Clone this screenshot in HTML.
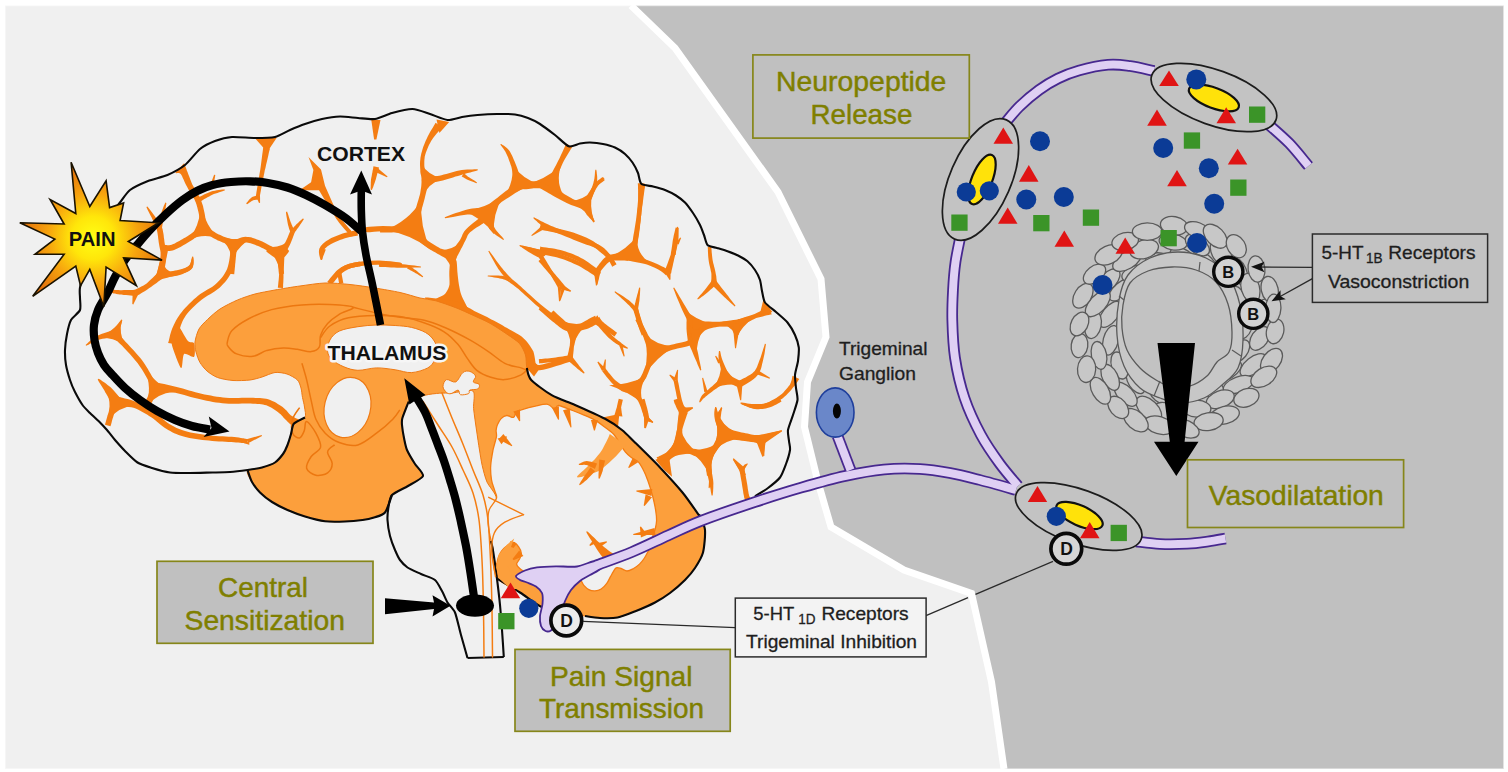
<!DOCTYPE html>
<html><head><meta charset="utf-8"><title>Migraine pathophysiology</title>
<style>
html,body{margin:0;padding:0;background:#fff;}
body{width:1508px;height:772px;overflow:hidden;}
svg{display:block;}
text{font-family:"Liberation Sans",Arial,Helvetica,sans-serif;}
.b{font-weight:bold;}
.ol{fill:#7d7d00;}
</style></head><body>
<svg width="1508" height="772" viewBox="0 0 1508 772">
<rect x="0" y="0" width="1508" height="772" fill="#ffffff"/>
<rect x="5" y="5.5" width="1498.8" height="763.5" fill="#f0f0f0"/>
<path d="M631 5.5L675 48L778 192L821 279L826 337L807.5 382L804.5 427L818 482L831 527L904 570L971.5 593.5L991.5 682L1004 769L1503.8 769L1503.8 5.5Z" fill="#c0c0c0"/>
<path d="M631 5.5L675 48L778 192L821 279L826 337L807.5 382L804.5 427L818 482L831 527L904 570L971.5 593.5L991.5 682L1004 769" fill="none" stroke="#ffffff" stroke-width="7" stroke-linejoin="miter"/>
<rect x="5" y="5.5" width="1498.8" height="763.5" fill="none" stroke="#ffffff" stroke-opacity="0.5" stroke-width="1.5"/>
<g>
<path d="M175.1 172.9L175.9 173.1L176.7 173.2L177.4 173.1L177.9 173.1L178.5 173L179.2 173.1L179.9 173.4L180.8 173.9L181.4 175L182.1 176.3L182.8 177.9L183.6 179.6L184.4 181.5L185.3 183.4L186.2 185.3L187.2 187.1L188.2 189L189.3 190.8L190.3 192.6L191.4 194.3L192.5 196L193.5 197.7L194.4 199.3L195.1 200.9L195.8 202.6L196.4 204.3L196.9 206L197.4 207.7L197.8 209.4L198.2 211L198.6 212.7L198.9 214.3L199.1 215.8L199.2 217.5L199.3 219.2L199.3 220.8L199.3 222.4L199.3 223.8L199.3 225L199.3 225.9L206.2 225.5L206 224.6L205.9 223.5L205.8 222.1L205.6 220.4L205.5 218.7L205.2 216.9L204.9 215L204.6 213.2L204.2 211.5L203.8 209.8L203.4 208L203 206.1L202.4 204.3L201.8 202.4L201.1 200.5L200.4 198.6L199.5 196.8L198.5 194.9L197.4 193.1L196.3 191.3L195.2 189.5L194.2 187.8L193.2 186.1L192.3 184.5L191.6 182.8L190.9 181L190.1 179.1L189.5 177.2L188.8 175.4L188.1 173.7L187.5 172.1L186.8 170.6L186.4 169.1L185.9 167.7L185.4 166.5L184.9 165.4L184.4 164.4L184.2 163.7L184.3 163.2L184.5 162.8Z" fill="#f47d12"/>
<path d="M213.4 186.7L215.3 175L214.1 174.7L210 185.8Z" fill="#f47d12"/>
<path d="M200.8 201.2L201.7 200.7L202.9 200L204.3 199.1L205.9 198.2L207.5 197.3L209.2 196.4L210.8 195.5L212.3 194.8L213.9 194.1L215.6 193.5L217.4 192.9L219.2 192.3L220.9 191.7L222.5 191.2L223.8 190.8L224.8 190.4L224.5 189.3L223.5 189.4L222.1 189.5L220.5 189.7L218.7 190L216.7 190.3L214.8 190.7L212.9 191.1L211.1 191.6L209.4 192.2L207.6 193L205.7 193.8L204 194.6L202.3 195.4L200.8 196.2L199.6 196.7L198.7 197.2Z" fill="#f47d12"/>
<path d="M200.1 223.5L199.6 224.2L199 225.1L198.3 226.1L197.5 227.2L196.7 228.3L195.8 229.5L194.9 230.5L193.9 231.5L192.7 232.4L191.4 233.4L190 234.4L188.5 235.4L187 236.4L185.4 237.4L183.8 238.3L182.3 239.2L180.8 240.1L179.3 241L177.7 241.8L176.2 242.6L174.8 243.4L173.4 244L172.1 244.5L171 244.9L170.1 245.1L169.2 245.2L168.2 245.2L167.3 245.2L166.4 245.1L165.6 245L164.7 244.8L164 244.8L163.6 250.5L164.1 250.6L164.8 250.7L165.7 250.8L166.8 250.9L168.1 251L169.5 251L171.1 250.8L172.6 250.4L174.1 249.9L175.7 249.3L177.3 248.5L178.9 247.7L180.5 246.9L182.1 246L183.7 245.1L185.2 244.2L186.8 243.3L188.4 242.3L190 241.3L191.7 240.2L193.3 239.2L194.8 238.1L196.3 237L197.6 235.9L199 234.8L200.2 233.6L201.4 232.4L202.4 231.2L203.4 230.1L204.2 229.2L204.9 228.4L205.4 227.9Z" fill="#f47d12"/>
<path d="M146.4 207.1L146.9 208.2L147.6 209.7L148.5 211.5L149.5 213.4L150.5 215.4L151.5 217.3L152.4 219.2L153.1 220.8L153.8 222.1L154.4 223.3L154.9 224.4L155.4 225.3L155.8 226.2L156.1 227.2L156.4 228.3L156.7 229.5L157.1 231L157.4 232.6L157.7 234.5L158 236.4L158.2 238.4L158.5 240.4L158.7 242.3L159 244.1L159.3 245.8L159.6 247.3L159.9 248.7L160.2 250L160.4 251.2L160.6 252.5L160.6 253.9L160.6 255.4L160.4 257.4L160 259.7L159.5 262.3L158.9 265L158.4 267.5L157.8 269.9L157.4 271.9L157 273.4L162.7 274.6L163 273.2L163.4 271.2L164 268.8L164.5 266.2L165.1 263.4L165.6 260.7L166.1 258.1L166.3 255.9L166.4 253.9L166.3 252.1L166.1 250.4L165.8 248.9L165.5 247.5L165.2 246.1L164.9 244.7L164.7 243.2L164.4 241.5L164.2 239.6L163.9 237.7L163.7 235.6L163.4 233.6L163 231.6L162.7 229.7L162.2 227.9L161.6 226.4L161 225.1L160.3 223.9L159.6 222.9L158.9 221.9L158.2 221L157.4 219.9L156.6 218.7L155.5 217.3L154.3 215.6L153 213.8L151.7 212L150.4 210.3L149.2 208.7L148.2 207.4L147.4 206.5Z" fill="#f47d12"/>
<path d="M165.3 202.6L164.9 203.4L164.5 204.4L164 205.6L163.4 207L162.9 208.5L162.3 210.1L161.7 211.7L161.2 213.3L160.7 215.1L160.1 217.1L159.6 219.3L159 221.5L158.5 223.6L158 225.5L157.5 227.1L157.2 228.2L161.7 229.2L161.9 228L162.2 226.4L162.5 224.5L162.9 222.4L163.3 220.2L163.8 218L164.2 216L164.5 214.2L164.8 212.5L165.1 210.8L165.4 209.2L165.7 207.6L165.9 206.2L166.1 204.9L166.3 203.8L166.4 202.9Z" fill="#f47d12"/>
<path d="M200.4 228.2L201.1 228.8L202 229.6L203.1 230.5L204.3 231.6L205.7 232.8L207.1 234L208.6 235.1L210.1 236.1L211.6 237L213.1 237.9L214.6 238.8L216.2 239.6L217.8 240.4L219.5 241.1L221.1 241.8L222.7 242.4L224.2 243L225.7 243.6L227.3 244.2L229 244.8L230.6 245.3L232.3 245.7L233.9 246L235.7 246.1L237.6 245.9L239.3 245.4L240.7 244.7L242 244.1L243 243.5L244 243L244.8 242.7L245.7 242.6L246.8 242.6L248 242.8L249.3 243L250.6 243.3L252 243.7L253.5 244.2L255 244.8L256.5 245.4L258.1 246L259.8 246.8L261.6 247.7L263.4 248.6L265.2 249.6L267 250.5L268.7 251.4L270.2 252.2L271.6 253L272.9 253.8L274.2 254.6L275.4 255.3L276.4 256L277.4 256.7L278.2 257.2L278.8 257.7L282.2 251.6L281.5 251.3L280.7 250.9L279.6 250.4L278.5 249.8L277.2 249.2L275.8 248.5L274.4 247.8L272.9 247.1L271.4 246.3L269.7 245.4L267.9 244.5L266.1 243.5L264.2 242.5L262.3 241.6L260.4 240.7L258.6 240L257 239.4L255.3 238.8L253.7 238.3L252.1 237.8L250.5 237.4L248.9 237.1L247.2 236.9L245.5 236.8L243.8 236.9L242.1 237.3L240.6 237.8L239.3 238.3L238.2 238.8L237.2 239.1L236.4 239.2L235.6 239.2L234.6 239.2L233.3 239.2L232 239L230.6 238.7L229.2 238.3L227.7 237.9L226.2 237.5L224.7 237L223.2 236.4L221.8 235.8L220.3 235.1L218.8 234.4L217.3 233.7L215.9 232.9L214.6 232.1L213.3 231.3L212.2 230.4L211 229.4L209.8 228.2L208.6 227L207.6 225.9L206.6 224.8L205.7 223.9L205.1 223.2Z" fill="#f47d12"/>
<path d="M201.3 207.8Q206.1 224.9 217.7 238.4Q203.1 233 189.3 240.1Q199 225.3 201.3 207.8Z" fill="#f47d12"/>
<path d="M231.7 241.7L231.7 242.4L231.6 243.3L231.5 244.4L231.4 245.6L231.2 246.9L231 248.4L230.9 249.8L230.8 251.2L230.7 252.7L230.5 254.2L230.4 255.8L230.4 257.4L230.3 258.9L230.2 260.5L230.2 262L230.1 263.4L229.9 264.8L229.8 266.3L229.7 267.8L229.5 269.3L229.4 270.7L229.3 271.9L229.2 273L229.1 273.7L234.2 274.3L234.3 273.5L234.4 272.4L234.5 271.2L234.7 269.8L234.8 268.3L235 266.8L235.1 265.3L235.2 263.8L235.4 262.4L235.5 260.9L235.7 259.3L235.8 257.7L236 256.2L236.1 254.7L236.3 253.3L236.5 252.1L236.8 250.9L237.2 249.6L237.6 248.4L238.1 247.2L238.5 246.1L238.9 245.1L239.3 244.3L239.6 243.6Z" fill="#f47d12"/>
<path d="M219.7 238.5Q235.9 240.6 252 237.3Q238.9 245.9 231.4 259.7Q230.8 246.2 219.7 238.5Z" fill="#f47d12"/>
<path d="M283.4 256.5L283.9 255.7L284.5 254.5L285.3 253.1L286.2 251.6L287.2 249.9L288.1 248.2L289 246.5L289.8 244.9L290.6 243.2L291.3 241.5L292 239.7L292.7 237.9L293.3 236.2L293.9 234.7L294.3 233.5L294.6 232.6L290.4 230.9L290 231.8L289.4 233L288.8 234.5L288.2 236.1L287.5 237.8L286.7 239.5L286 241.1L285.2 242.5L284.4 243.8L283.4 245.3L282.3 246.8L281.2 248.2L280.1 249.6L279.2 250.9L278.3 252L277.6 252.8Z" fill="#f47d12"/>
<path d="M294.6 230.9L294.3 230.3L294 229.6L293.5 228.7L293.1 227.7L292.6 226.7L292.1 225.6L291.6 224.4L291.2 223.2L290.6 221.9L290.1 220.4L289.5 218.7L288.9 217L288.4 215.3L287.9 213.8L287.4 212.5L287.1 211.6L286 211.9L286 212.9L286.2 214.2L286.4 215.8L286.7 217.5L287 219.3L287.3 221.1L287.6 222.8L287.9 224.2L288.2 225.5L288.6 226.8L288.9 228.1L289.3 229.2L289.7 230.3L290 231.2L290.2 232L290.4 232.5Z" fill="#f47d12"/>
<path d="M294.3 233.2L294.6 232.7L295 232L295.6 231.3L296.2 230.4L296.8 229.5L297.5 228.6L298.2 227.7L298.8 226.8L299.4 225.9L300.1 224.8L300.9 223.7L301.7 222.6L302.4 221.6L303 220.6L303.5 219.8L303.9 219.1L303 218.4L302.5 218.8L301.7 219.5L300.9 220.2L299.9 221.1L298.9 222L298 223L297 223.8L296.2 224.6L295.4 225.4L294.6 226.2L293.8 227.1L293.1 227.9L292.4 228.6L291.7 229.3L291.2 229.8L290.7 230.2Z" fill="#f47d12"/>
<path d="M277.1 254.6L277.2 255.3L277.3 256.2L277.4 257.2L277.4 258.5L277.5 259.8L277.7 261.1L277.8 262.5L277.9 263.8L278 265.1L278.2 266.6L278.3 268.1L278.5 269.6L278.6 271.1L278.8 272.4L278.9 273.5L279 274.3L284.1 273.7L284 272.9L283.9 271.8L283.8 270.5L283.6 269.1L283.5 267.6L283.3 266.1L283.2 264.7L283.1 263.5L283.2 262.3L283.3 261L283.4 259.8L283.5 258.5L283.6 257.4L283.7 256.3L283.9 255.4L284 254.7Z" fill="#f47d12"/>
<path d="M266 246.2Q279.1 249.3 289.3 240.6Q282.7 255.9 280.5 272.3Q276.9 257.3 266 246.2Z" fill="#f47d12"/>
<path d="M255.2 138.6L276.9 137.6L267.2 151.9Z" fill="#f47d12"/>
<path d="M263.2 147.3L263 149.1L262.7 151.4L262.3 154.3L261.9 157.4L261.5 160.6L261.1 163.8L260.7 166.8L260.3 169.5L259.9 171.8L259.5 174L259.2 176.1L258.8 178.1L258.5 180L258.2 181.9L257.9 183.7L257.6 185.5L257.3 187.3L257 189L256.7 190.8L256.4 192.5L256.2 194L255.9 195.4L255.8 196.6L255.6 197.5L259.6 198.1L259.7 197.2L259.9 196.1L260.1 194.7L260.4 193.1L260.7 191.5L261 189.7L261.3 187.9L261.6 186.2L261.9 184.4L262.3 182.6L262.7 180.8L263.1 178.9L263.5 176.9L263.9 174.8L264.4 172.6L264.8 170.3L265.5 167.7L266.1 164.8L266.9 161.6L267.6 158.4L268.3 155.4L268.9 152.6L269.5 150.3L270 148.5Z" fill="#f47d12"/>
<path d="M257.3 195.8L257 195.9L256.6 195.9L256 196L255.3 196.1L254.4 196.3L253.6 196.5L252.7 196.8L251.8 197.3L251 198L250.1 198.7L249.3 199.6L248.5 200.5L247.8 201.4L247.1 202.2L246.6 202.8L246.2 203.4L247 204.2L247.6 203.9L248.3 203.4L249.1 202.8L250.1 202.2L251 201.6L251.9 201L252.8 200.6L253.4 200.3L253.9 200.1L254.5 200L255.1 199.9L255.7 199.8L256.3 199.8L256.9 199.8L257.4 199.8L257.9 199.8Z" fill="#f47d12"/>
<path d="M256 196.3L259 202.9L260.1 202.7L260 195.4Z" fill="#f47d12"/>
<path d="M308.5 156.9L321 169.5L325 185.8L333.8 205.8L329.4 207.8L319 190.2L299.5 190.2L311.1 182.2L313.4 169.9Z" fill="#f47d12"/>
<path d="M331.4 205.8C332.7 208.1 336.4 215.4 339.4 219.7C342.4 224.1 347.7 229.7 349.4 231.7" fill="none" stroke="#f47d12" stroke-width="4.1" stroke-linecap="round" stroke-linejoin="round"/>
<path d="M371.3 119.9L374.1 139.5L376.4 139.6L380.5 120.1Z" fill="#f47d12"/>
<path d="M373.5 166.2L373.3 167.3L373.1 168.7L372.7 170.3L372.4 172.2L372 174.1L371.7 176L371.3 177.8L371 179.4L370.9 180.9L370.8 182.4L370.8 183.9L370.7 185.4L370.7 186.7L370.6 187.9L370.7 188.9L370.7 189.7L371.9 189.9L372.2 189.2L372.6 188.3L373.1 187.2L373.5 185.9L374 184.6L374.5 183.2L375 181.7L375.5 180.3L376 178.8L376.4 177.1L376.9 175.2L377.4 173.3L377.9 171.5L378.4 169.9L378.8 168.5L379.1 167.5Z" fill="#f47d12"/>
<path d="M375 171.8L386.9 177.3L387.6 176.4L377.5 167.9Z" fill="#f47d12"/>
<path d="M367.3 229.7C370 229.5 377.8 228.7 383.3 228.7C388.7 228.7 397.2 229.5 400 229.7" fill="none" stroke="#f47d12" stroke-width="5.3" stroke-linecap="round" stroke-linejoin="round"/>
<path d="M322.3 259.6L322.4 258.7L322.4 257.6L322.5 256.4L322.5 255L322.6 253.6L322.8 252.4L323.1 251.3L323.5 250.6L324 249.8L324.6 249L325.3 248.2L326.2 247.4L327.2 246.6L328.3 245.8L329.5 245.1L330.7 244.3L332.1 243.5L333.6 242.7L335.3 242L337 241.2L338.8 240.5L340.6 239.8L342.4 239.2L344.2 238.6L345.9 238L347.9 237.6L349.8 237.1L351.8 236.7L353.7 236.3L355.4 236L356.9 235.7L358 235.5L356.7 229.9L355.6 230.2L354.2 230.5L352.5 230.9L350.6 231.4L348.6 231.9L346.5 232.4L344.5 233L342.6 233.6L340.7 234.3L338.8 234.9L336.9 235.7L335 236.4L333.1 237.2L331.3 238.1L329.6 239L328.1 239.9L326.7 240.8L325.3 241.8L324.1 242.8L322.9 243.8L321.8 244.9L320.8 246.1L320 247.4L319.3 248.8L319 250.4L318.9 252.1L319.1 253.7L319.3 255.3L319.7 256.7L320 257.9L320.3 259L320.6 259.7Z" fill="#f47d12"/>
<path d="M337.4 274C338.7 272.9 341.7 269.3 345.4 267.6C349 266 353.7 264.9 359.3 264C365 263.2 372.5 262.5 379.3 262.6C386.1 262.7 396.6 264.3 400 264.6" fill="none" stroke="#f47d12" stroke-width="4.4" stroke-linecap="round" stroke-linejoin="round"/>
<path d="M192.2 256.6L191.9 257.4L191.7 258.5L191.4 259.8L191.2 261.1L190.8 262.5L190.4 263.7L189.8 264.7L189.2 265.4L188.5 266.1L187.5 266.8L186.3 267.5L184.9 268.2L183.5 268.8L182 269.4L180.5 270L179.1 270.4L177.7 270.8L176.1 271.2L174.5 271.5L172.8 271.7L171.2 271.9L169.7 272L168.5 272.2L167.5 272.3L168.1 276.9L169 276.8L170.2 276.6L171.7 276.5L173.4 276.3L175.2 276L177 275.7L178.8 275.3L180.5 274.8L182.1 274.2L183.6 273.5L185.3 272.8L186.9 272L188.4 271.2L189.9 270.2L191.2 269.1L192.4 267.9L193.1 266.3L193.5 264.6L193.7 263L193.7 261.4L193.7 259.9L193.5 258.6L193.4 257.5L193.3 256.7Z" fill="#f47d12"/>
<path d="M436.5 119.5L449.2 121.9L439.4 132.9Z" fill="#f47d12"/>
<path d="M435.6 122.7L434.9 123.9L434 125.5L432.9 127.4L431.6 129.6L430.2 131.8L428.9 134.2L427.7 136.5L426.7 138.7L425.7 140.8L424.8 142.9L424 145L423.2 147.1L422.5 149.3L421.9 151.4L421.3 153.4L420.9 155.4L420.5 157.4L420.3 159.4L420.1 161.3L420 163.2L420 165L420.1 166.8L420.2 168.4L420.3 170.1L420.3 171.7L420.5 173.2L420.8 174.6L421.1 175.8L421.3 176.9L421.4 177.9L421.5 178.8L421.4 179.9L421.5 181.2L421.5 182.6L421.4 184.2L421.3 185.8L421.1 187.5L420.8 189.3L420.5 191.2L420.2 193.2L419.7 195.2L419.1 197.3L418.5 199.5L417.8 201.8L417.1 204.1L416.4 206.4L415.7 208.7L415 210.9L414.3 213L413.4 215.3L412.6 217.5L411.8 219.8L411 221.8L410.2 223.7L409.6 225.3L409.1 226.5L416.7 228.9L417 227.6L417.4 226L417.9 224L418.4 221.9L419 219.6L419.6 217.2L420.2 214.8L420.8 212.6L421.4 210.4L422 208.1L422.7 205.8L423.3 203.4L424 201L424.6 198.7L425.1 196.5L425.6 194.4L426.1 192.4L426.6 190.5L427 188.6L427.4 186.8L427.8 185L428.1 183.2L428.3 181.5L428.4 179.7L428.1 177.9L427.6 176.4L427.1 175L426.5 173.8L425.9 172.8L425.5 171.8L425 170.8L424.7 169.6L424.6 168.1L424.4 166.5L424.3 164.9L424.3 163.2L424.3 161.5L424.4 159.8L424.6 158L424.8 156.3L425.3 154.5L425.9 152.6L426.6 150.7L427.4 148.7L428.2 146.8L429.1 144.8L430.1 142.9L431.1 141.1L432.3 139.2L433.7 137.3L435.3 135.3L436.9 133.3L438.5 131.4L439.9 129.7L441.2 128.3L442.1 127.2Z" fill="#f47d12"/>
<path d="M412.5 223.7L411.2 223.9L409.5 224.2L407.4 224.6L405.1 224.9L402.7 225.3L400.2 225.6L397.9 226L395.7 226.3L393.6 226.5L391.4 226.7L389.1 226.8L386.8 227L384.7 227.2L382.7 227.3L381.1 227.4L379.9 227.6L380.1 232.6L381.3 232.6L383 232.6L384.9 232.5L387 232.5L389.3 232.5L391.7 232.4L394 232.3L396.2 232.3L398.4 232.2L400.8 232.1L403.3 232L405.8 231.9L408.1 231.8L410.2 231.7L412 231.7L413.3 231.6Z" fill="#f47d12"/>
<path d="M409.7 230L410.5 231L411.6 232.2L412.9 233.9L414.3 235.7L415.9 237.6L417.6 239.5L419.4 241.4L421.3 243L423.1 244.6L425.1 246.1L427.1 247.6L429.3 248.9L431.4 250.2L433.5 251.4L435.5 252.6L437.4 253.7L439.4 254.8L441.4 256L443.4 257L445.3 258L447.1 258.9L448.7 259.7L450 260.4L451 261L454.3 252.6L453.1 252.4L451.6 252L449.9 251.6L448.1 251L446.1 250.5L444.1 249.8L442.1 249.1L440.3 248.4L438.4 247.3L436.5 246.2L434.5 245.1L432.5 243.8L430.5 242.6L428.6 241.3L426.9 239.9L425.3 238.6L423.9 237.1L422.6 235.4L421.2 233.5L420 231.6L418.8 229.7L417.7 228L416.8 226.4L416.1 225.3Z" fill="#f47d12"/>
<path d="M421.4 200.5Q419.5 226.4 430.8 249.7Q410.3 233.8 384.6 230.3Q408 221.6 421.4 200.5Z" fill="#f47d12"/>
<path d="M425.1 183.3L426.2 183.1L427.6 182.9L429.4 182.8L431.3 182.6L433.5 182.3L435.7 182L438.1 181.6L440.4 181.1L442.8 180.5L445.3 179.8L447.8 179L450.4 178.2L453 177.4L455.5 176.6L458 175.9L460.4 175.2L462.7 174.5L465.2 173.8L467.7 173.1L470.2 172.4L472.6 171.8L474.7 171.3L476.5 170.8L477.8 170.3L477.7 169.3L476.3 169.3L474.4 169.3L472.2 169.4L469.8 169.5L467.2 169.6L464.5 169.8L461.8 170.1L459.2 170.4L456.7 171L454.1 171.7L451.5 172.4L448.9 173.2L446.3 174L443.8 174.6L441.5 175.2L439.3 175.7L437.2 176L435.1 176.2L432.9 176.3L430.9 176.3L429 176.3L427.3 176.3L425.8 176.3L424.6 176.3Z" fill="#f47d12"/>
<path d="M461.6 176.4L462 176.6L462.5 176.9L463 177.2L463.7 177.6L464.4 178.1L465.2 178.5L466.1 179L467 179.5L468.1 180L469.4 180.5L470.7 181L472.1 181.6L473.5 182.1L474.7 182.6L475.7 183L476.5 183.2L477 182.3L476.3 181.9L475.4 181.3L474.3 180.6L473 179.8L471.8 179L470.5 178.3L469.4 177.5L468.5 176.9L467.7 176.4L467 175.8L466.3 175.3L465.7 174.8L465.2 174.3L464.7 173.9L464.3 173.5L463.9 173.2Z" fill="#f47d12"/>
<path d="M420.9 163.2Q428.1 175.3 441.9 178.2Q428.5 183.6 422.5 196.7Q423.3 179.9 420.9 163.2Z" fill="#f47d12"/>
<path d="M550.7 186.3L551 185.7L551.5 185L552.1 184.1L552.8 183L553.6 181.8L554.4 180.4L555.3 178.9L556.1 177.3L557 175.6L558 173.6L558.9 171.6L559.9 169.4L560.9 167.2L561.9 165.1L562.8 163L563.8 161L564.9 159.1L566.1 157.1L567.3 155.1L568.5 153.1L569.6 151.2L570.6 149.6L571.5 148.2L572.2 147.1L566 143.8L565.5 145L564.9 146.5L564.1 148.3L563.2 150.3L562.2 152.4L561.2 154.5L560.2 156.7L559.3 158.7L558.2 160.7L557.2 162.8L556.1 164.9L555 167L553.9 169.1L552.9 171L551.9 172.8L551 174.3L550 175.5L549.1 176.7L548.2 177.7L547.3 178.6L546.5 179.4L545.7 180.1L545 180.8L544.4 181.3Z" fill="#f47d12"/>
<path d="M547.2 179.8L546.1 180L544.7 180.2L543 180.4L541.1 180.6L539.2 180.8L537.2 181L535.3 181.2L533.5 181.3L531.5 181.3L529.5 181.5L527.6 181.6L525.9 181.7L524.5 181.7L523.4 181.5L522.8 181.2L522.4 180.9L521.8 180.3L520.9 179L520.1 177.1L519.3 174.8L518.5 172.3L517.8 169.8L516.9 167.3L516 165L515.2 163L514.4 161.1L513.6 159.2L512.8 157.3L512 155.6L511.2 153.9L510.3 152.3L509.4 150.8L508.3 149.5L507.1 148.3L505.9 147.2L504.7 146.3L503.6 145.5L502.6 144.9L501.7 144.3L501 143.9L500.3 144.6L500.8 145.3L501.4 146.1L502.1 147.1L502.9 148.1L503.8 149.2L504.6 150.4L505.3 151.6L506 152.9L506.6 154.2L507.3 155.7L508 157.3L508.6 159.1L509.3 160.9L510 162.8L510.6 164.7L511.3 166.6L511.8 168.7L512.2 171.1L512.6 173.7L513 176.4L513.5 179.1L514.2 181.8L515.2 184.3L516.9 186.7L519.2 188.2L521.7 189L524.1 189.3L526.3 189.2L528.4 189L530.3 188.7L532.1 188.4L533.7 188.3L535.6 188.3L537.6 188.3L539.7 188.2L541.8 188.1L543.7 188L545.4 187.9L546.8 187.8L547.9 187.8Z" fill="#f47d12"/>
<path d="M517.4 182.5L515.9 183.7L513.8 185.3L511.2 187.1L508.4 189.2L505.5 191.3L502.7 193.5L500.1 195.5L497.8 197.4L495.7 198.9L493.7 200.5L491.8 202.1L490 203.6L488.4 204.9L487.1 206.1L485.9 207.1L485 207.8L490.5 213.6L491.3 212.7L492.3 211.5L493.5 210.1L494.9 208.6L496.4 207L498 205.4L499.7 203.7L501.5 202.1L503.8 200.6L506.5 198.8L509.4 196.9L512.4 195L515.3 193.1L518 191.5L520.2 190.1L521.9 189.1Z" fill="#f47d12"/>
<path d="M545 186.8L546 187.4L547.3 188.3L548.8 189.5L550.5 190.7L552.4 192.1L554.3 193.4L556.2 194.7L558.1 195.8L559.8 196.9L561.6 198.1L563.5 199.1L565.3 200.2L567.2 201.2L569 202.1L570.8 203L572.6 203.8L574.3 204.6L576.1 205.4L577.9 206.1L579.6 206.7L581.2 207.3L582.6 207.8L583.7 208.2L584.6 208.6L586.3 202.9L585.4 202.7L584.1 202.4L582.7 202.1L581.1 201.7L579.4 201.3L577.7 200.8L576 200.3L574.4 199.7L572.8 198.9L571.2 198L569.4 197.1L567.7 196.1L565.9 195L564.2 193.9L562.6 192.8L561 191.7L559.5 190.4L557.9 188.9L556.3 187.4L554.8 185.8L553.4 184.3L552.1 182.9L551 181.7L550.2 180.8Z" fill="#f47d12"/>
<path d="M560.9 166.1Q555.1 183.1 565.1 198.1Q546 187.9 524.4 185.1Q544.9 179.9 560.9 166.1Z" fill="#f47d12"/>
<path d="M512.7 165.1Q523.1 179.9 540.5 184.8Q520.8 188.1 503.5 197.9Q513.9 183.2 512.7 165.1Z" fill="#f47d12"/>
<path d="M588.1 207.1L588.5 206.1L589 204.9L589.7 203.3L590.4 201.6L591.2 199.8L592 198L592.7 196.2L593.3 194.5L593.9 193L594.5 191.5L595 189.9L595.6 188.4L596.1 186.8L596.5 185.3L596.9 183.7L597.2 182.1L597.2 180.4L597.2 178.6L597.2 176.8L597 175.1L596.8 173.4L596.7 172L596.5 170.7L596.3 169.8L595.3 169.8L595.2 170.7L595 172L594.9 173.4L594.8 175.1L594.6 176.7L594.4 178.4L594.1 180L593.7 181.5L593.4 182.9L593 184.3L592.5 185.7L592 187.2L591.5 188.6L590.9 190.1L590.2 191.5L589.6 193L588.8 194.5L587.9 196L587 197.7L586 199.3L585 200.9L584.2 202.3L583.4 203.5L582.8 204.4Z" fill="#f47d12"/>
<path d="M595.3 187.3L604.7 180.2L604.2 179.4L593.5 184.3Z" fill="#f47d12"/>
<path d="M582.6 206.7L582.9 207.2L583.3 208L583.7 208.9L584.2 210L584.8 211.2L585.3 212.4L586 213.6L586.7 214.7L587.6 215.7L588.6 216.8L589.6 217.9L590.7 219L591.7 219.9L592.6 220.8L593.4 221.5L594 222L594.8 221.4L594.5 220.6L594 219.7L593.3 218.6L592.6 217.4L591.9 216.2L591.2 214.9L590.6 213.8L590.2 212.7L589.8 211.7L589.5 210.7L589.2 209.5L589 208.4L588.7 207.3L588.6 206.3L588.4 205.4L588.3 204.8Z" fill="#f47d12"/>
<path d="M487.8 207.7L486.6 207.8L484.9 207.9L482.8 207.9L480.4 208L477.8 208.1L475.1 208.2L472.2 208.5L469.4 209L466.3 209.8L463 210.8L459.4 211.9L455.8 213.1L452.3 214.3L449.2 215.5L446.6 216.4L444.7 217.2L445 218.2L447 217.9L449.7 217.5L453 216.9L456.6 216.3L460.3 215.6L463.9 215.1L467.3 214.6L470.1 214.4L472.7 214.3L475.3 214.4L477.8 214.5L480.2 214.7L482.4 215L484.4 215.3L486.2 215.5L487.6 215.7Z" fill="#f47d12"/>
<path d="M483.8 212.5L484.2 213.6L484.7 215.2L485.2 217.3L485.8 219.6L486.5 222L487.3 224.4L488.3 226.8L489.5 228.9L491.1 230.8L492.9 232.6L494.9 234.2L496.9 235.8L498.9 237.1L500.7 238.3L502.2 239.3L503.3 240L504 239.3L503.2 238.2L502 236.8L500.5 235.3L498.9 233.5L497.4 231.7L495.9 229.9L494.7 228.1L493.9 226.4L493.3 224.7L492.8 222.8L492.4 220.6L492.2 218.3L492 216.1L491.8 214.1L491.7 212.3L491.6 210.9Z" fill="#f47d12"/>
<path d="M483.7 214.8L482.4 215.9L480.5 217.3L478.2 219.1L475.7 220.9L473.1 222.9L470.7 224.9L468.4 226.9L466.6 228.7L465.2 230.3L464 231.8L463.2 233.3L462.5 234.6L462 236L461.4 237.2L460.8 238.5L460 240L458.8 241.7L457.4 243.6L455.8 245.8L454.2 248L452.7 250.1L451.3 252L450.1 253.6L449.2 254.7L456 258.9L456.6 257.6L457.5 255.8L458.6 253.7L459.8 251.4L461 249L462.3 246.7L463.4 244.5L464.3 242.5L465.3 240.8L466 239.3L466.6 237.9L467.1 236.7L467.6 235.6L468.2 234.6L469 233.5L470.1 232.2L471.8 230.9L474 229.3L476.5 227.6L479.2 225.9L481.8 224.2L484.2 222.7L486.2 221.5L487.7 220.6Z" fill="#f47d12"/>
<path d="M464 211.4Q485.1 208.4 502.8 196.6Q492.5 214.1 493.9 234.3Q482.8 217.8 464 211.4Z" fill="#f47d12"/>
<path d="M533.3 218.1L534.1 218.9L535.2 219.9L536.5 221.1L537.9 222.4L539.5 223.8L541.2 225.2L542.9 226.5L544.5 227.6L546.2 228.5L547.8 229.3L549.5 230L551.2 230.7L552.9 231.4L554.7 232.2L556.6 232.9L558.7 233.7L560.9 234.6L563.3 235.6L565.7 236.6L568.3 237.6L570.9 238.6L573.5 239.7L576.1 240.7L578.7 241.7L581.3 242.7L583.9 243.7L586.6 244.7L589.3 245.6L591.9 246.6L594.3 247.5L596.4 248.5L598.3 249.5L599.9 250.6L601.3 251.7L602.5 252.9L603.7 254.1L604.7 255.3L605.7 256.6L606.7 257.8L607.6 259L608.5 260.1L609.2 261.2L609.9 262.3L610.5 263.4L611 264.4L611.5 265.3L611.9 266.2L612.2 266.8L616.6 264.3L616.2 263.8L615.8 263L615.2 262.1L614.6 261L613.9 259.9L613 258.6L612.1 257.4L611.2 256.2L610.2 255L609.3 253.8L608.2 252.5L607 251.1L605.7 249.7L604.2 248.3L602.5 247L600.6 245.7L598.4 244.5L596 243.4L593.5 242.4L590.9 241.4L588.2 240.4L585.5 239.5L582.8 238.5L580.3 237.5L577.8 236.5L575.2 235.5L572.6 234.5L570 233.4L567.4 232.4L564.9 231.4L562.6 230.5L560.4 229.6L558.3 228.7L556.4 228L554.6 227.3L552.9 226.6L551.3 225.9L549.7 225.2L548.2 224.5L546.6 223.7L544.9 223L543.1 222.1L541.3 221.2L539.5 220.2L537.8 219.2L536.2 218.4L534.9 217.7L533.9 217.3Z" fill="#f47d12"/>
<path d="M544.3 223.8L531.3 235.2L531.9 236.1L546.9 227.5Z" fill="#f47d12"/>
<path d="M637.8 183.2L637.9 184.4L638 186.1L638 188L638.1 190.2L638.1 192.5L638.1 194.8L638.1 197.2L638.1 199.6L637.9 201.9L637.7 204.3L637.5 206.7L637.2 209.3L637 211.8L636.7 214.4L636.4 216.9L636.1 219.4L635.7 221.9L635.3 224.5L634.9 227L634.5 229.6L634.1 232.1L633.6 234.6L633.2 237L632.9 239.3L632.5 241.5L632.1 243.7L631.8 245.9L631.4 248L631.1 249.9L630.8 251.7L630.6 253.1L630.4 254.2L636.3 255L636.4 253.9L636.5 252.4L636.7 250.7L636.9 248.7L637.1 246.6L637.3 244.4L637.6 242.2L637.8 240L638.1 237.8L638.4 235.4L638.8 232.9L639.2 230.3L639.6 227.7L639.9 225.1L640.3 222.5L640.6 220L640.9 217.4L641.2 214.9L641.4 212.3L641.7 209.7L641.9 207.2L642.2 204.7L642.4 202.3L642.6 199.9L642.9 197.6L643.2 195.2L643.5 192.8L643.8 190.5L644.1 188.3L644.3 186.4L644.6 184.8L644.8 183.6Z" fill="#f47d12"/>
<path d="M675.7 227.4L675.5 228.3L675.2 229.5L674.9 230.8L674.5 232.4L674.1 234.1L673.7 235.8L673.4 237.6L673 239.3L672.7 241.1L672.4 243.2L672.1 245.4L671.8 247.6L671.5 249.6L671.2 251.5L670.9 253.1L670.8 254.3L675.7 254.9L675.8 253.7L676 252.2L676.2 250.3L676.5 248.2L676.7 246L677 243.8L677.2 241.8L677.5 240L677.6 238.2L677.8 236.5L678 234.7L678.2 233L678.4 231.5L678.5 230L678.6 228.8L678.7 227.9Z" fill="#f47d12"/>
<path d="M639.1 184.7L639 186.6L638.9 189.2L638.8 192.2L638.6 195.6L638.4 199.2L638.2 202.8L638 206.4L637.8 209.7L637.4 213L637.1 216.4L636.7 219.9L636.4 223.4L636 226.7L635.6 229.9L635.2 232.9L634.8 235.5L634.3 237.8L633.8 239.9L633.2 241.7L632.7 243.4L632.1 244.9L631.5 246.2L630.9 247.5L630.4 248.7L629.7 249.7L629 250.6L628.2 251.4L627.5 252.1L626.7 252.7L626 253.3L625.3 253.9L624.7 254.3L630.9 259.3L631.1 258.8L631.4 258.1L631.9 257.3L632.6 256.3L633.3 255.1L634 253.8L634.6 252.4L635.2 250.9L635.7 249.4L636.2 248L636.6 246.4L637.1 244.7L637.5 242.8L637.9 240.8L638.3 238.6L638.7 236.2L639.1 233.5L639.5 230.4L639.9 227.2L640.3 223.8L640.7 220.3L641 216.8L641.4 213.4L641.7 210.1L642.2 206.8L642.7 203.3L643.2 199.6L643.6 196.1L644.1 192.7L644.5 189.7L644.9 187.2L645.2 185.3Z" fill="#f47d12"/>
<path d="M627.6 252.8L626.3 253L624.4 253.1L622 253.2L619.3 253.4L616.5 253.6L613.8 254L611.1 254.5L608.7 255.3L606.6 256.4L604.7 257.8L603.1 259.3L601.7 260.9L600.5 262.4L599.4 263.8L598.6 265.1L597.8 266.1L597 267.1L596.3 268.1L595.7 269L595.3 269.9L595 270.6L594.8 271.2L594.7 271.5L594.6 271.7L600.3 273.8L600.5 273.3L600.6 272.7L600.6 272.3L600.7 271.8L600.8 271.3L601 270.8L601.4 270.2L601.9 269.4L602.8 268.4L603.8 267.2L604.9 265.9L606 264.7L607.2 263.5L608.4 262.5L609.7 261.6L610.9 261.1L612.5 260.7L614.6 260.5L617 260.4L619.5 260.4L622 260.5L624.4 260.6L626.4 260.7L627.9 260.8Z" fill="#f47d12"/>
<path d="M626.7 260.6L628.2 260.8L630.2 261.1L632.5 261.5L635.1 261.9L637.7 262.4L640.4 262.9L642.8 263.4L645 263.9L646.9 264.6L648.8 265.3L650.7 266L652.4 266.8L654.2 267.6L655.8 268.3L657.3 269L658.7 269.7L659.9 270.5L661.1 271.3L662.1 272.1L663.1 272.8L664 273.6L664.8 274.2L665.4 274.8L666 275.3L669.4 270.2L668.8 269.9L668 269.5L667.1 269L666 268.4L664.8 267.8L663.5 267.1L662.1 266.5L660.7 265.8L659.2 265.1L657.7 264.3L656 263.6L654.2 262.8L652.4 262L650.4 261.2L648.5 260.4L646.4 259.7L644.3 258.8L641.8 257.8L639.3 256.9L636.7 255.9L634.2 255.1L632 254.3L630.1 253.6L628.8 253Z" fill="#f47d12"/>
<path d="M637.2 236.1Q635.6 253.1 649.7 262.9Q627.6 258.8 605.1 258.6Q624.5 252.1 637.2 236.1Z" fill="#f47d12"/>
<path d="M671 273.8L671.3 272.4L671.6 270.6L672.1 268.5L672.7 266.1L673.2 263.6L673.8 261.1L674.3 258.6L674.8 256.4L675.3 254.3L675.8 252.2L676.3 250.1L676.8 248.1L677.3 246L677.7 244L678.1 242.1L678.4 240.1L678.5 238.2L678.6 236.2L678.6 234.3L678.5 232.4L678.4 230.7L678.3 229.2L678.2 227.9L678.1 226.9L677.1 226.8L676.9 227.8L676.7 229.1L676.5 230.6L676.3 232.3L676 234.1L675.7 236L675.3 237.8L674.9 239.6L674.5 241.3L674.1 243.2L673.5 245.1L673 247.1L672.4 249.1L671.8 251.1L671.2 253.2L670.5 255.2L669.8 257.3L668.9 259.7L668.1 262.1L667.2 264.5L666.3 266.7L665.5 268.8L664.8 270.5L664.3 271.8Z" fill="#f47d12"/>
<path d="M678.6 244.6L681.1 238.1L680.2 237.6L675.9 243.1Z" fill="#f47d12"/>
<path d="M664.7 272.6L669.6 279.9L670.5 279.6L670.6 270.9Z" fill="#f47d12"/>
<path d="M599.3 270.3L598 269.4L596.1 268.1L594 266.5L591.5 264.7L588.9 262.8L586.3 261L583.6 259.3L581 257.9L578.5 256.6L576 255.4L573.4 254.3L570.8 253.3L568.2 252.4L565.6 251.6L563.1 250.8L560.5 250.1L557.8 249.4L554.9 248.8L551.9 248.3L549 247.9L546.3 247.5L543.9 247.2L541.8 246.9L540.3 246.6L539.7 251L541.2 251.2L543.3 251.5L545.7 251.8L548.4 252.2L551.2 252.7L554.1 253.2L556.8 253.7L559.4 254.3L561.8 255L564.3 255.8L566.8 256.6L569.3 257.5L571.8 258.4L574.2 259.4L576.5 260.5L578.8 261.7L581.1 263.2L583.5 264.9L585.9 266.9L588.3 268.8L590.5 270.8L592.6 272.5L594.3 274L595.6 275.2Z" fill="#f47d12"/>
<path d="M594.4 271.6L596.4 284.7L597.4 284.8L600.5 271.9Z" fill="#f47d12"/>
<path d="M585.8 202.5L584.6 202.3L583 202.1L581.3 201.7L579.3 201.4L577.2 200.9L575.1 200.4L573 199.8L570.9 199.1L568.9 198.2L566.7 197.1L564.4 195.9L562 194.7L559.7 193.4L557.4 192.1L555.3 190.8L553.3 189.7L551.6 188.5L549.8 187.3L548.2 186L546.6 184.8L545.2 183.7L543.9 182.7L542.8 181.8L542 181.1L538 186.9L538.9 187.4L540.1 188.1L541.5 188.9L543.1 189.9L544.9 191L546.7 192.1L548.7 193.2L550.6 194.2L552.6 195.4L554.8 196.7L557.1 198L559.5 199.3L561.9 200.6L564.3 201.8L566.7 203L568.9 204L571.1 205L573.4 205.8L575.6 206.6L577.7 207.3L579.7 207.9L581.5 208.5L582.9 208.9L584 209.3Z" fill="#f47d12"/>
<path d="M588 207.5L588.4 206.3L589 204.7L589.8 202.8L590.6 200.8L591.4 198.7L592.3 196.6L593.1 194.7L593.8 193L594.5 191.7L595.2 190.4L595.9 189.1L596.6 188L597.2 187L597.9 186L598.5 185L599.2 184.2L599.8 183.3L600.6 182.6L601.4 181.8L602.2 181.2L602.9 180.5L603.6 180L604.2 179.5L604.6 179L603 177L602.5 177.3L601.9 177.6L601.2 178.1L600.3 178.7L599.3 179.4L598.4 180.1L597.4 180.9L596.5 181.8L595.7 182.8L594.9 183.7L594.1 184.7L593.3 185.8L592.5 187L591.6 188.2L590.8 189.5L589.9 190.9L588.9 192.5L587.8 194.3L586.6 196.3L585.4 198.3L584.3 200.2L583.3 201.9L582.4 203.4L581.7 204.4Z" fill="#f47d12"/>
<path d="M581.9 207.8L582.5 208.3L583.2 209L584 209.9L584.9 210.8L585.8 211.8L586.7 212.8L587.6 213.8L588.3 214.8L589 215.7L589.7 216.8L590.5 217.9L591.2 219.1L591.8 220.1L592.4 221.1L593 221.9L593.4 222.5L594.3 222.1L594.2 221.4L593.9 220.4L593.6 219.3L593.2 218.1L592.8 216.8L592.3 215.5L591.9 214.3L591.4 213.1L591 211.8L590.5 210.6L589.9 209.3L589.3 208L588.8 206.8L588.4 205.7L588 204.8L587.8 204Z" fill="#f47d12"/>
<path d="M568.5 201.1Q582.7 200.9 592.5 190.7Q589.1 205.7 593.9 220.4Q583.1 208.3 568.5 201.1Z" fill="#f47d12"/>
<path d="M539.2 229.9L539.8 229.9L540.4 229.9L541.1 230L542 230.1L543 230.3L544.2 230.5L545.7 230.7L547.5 231L549.6 231.5L552.1 232L554.8 232.5L557.8 233.1L560.7 233.8L563.7 234.5L566.6 235.2L569.3 236L571.9 236.8L574.4 237.6L577 238.5L579.5 239.5L581.9 240.5L584.3 241.5L586.6 242.6L588.8 243.8L591 245.1L593.1 246.5L595.3 248.1L597.5 249.8L599.5 251.4L601.3 252.9L603 254.3L604.4 255.5L605.5 256.5L606.3 257.2L606.8 257.9L607.2 258.4L607.5 258.8L607.7 259.2L608 259.6L608.3 260L612.2 256.4L611.9 256.2L611.7 256L611.3 255.6L610.8 255.1L610.2 254.6L609.4 253.9L608.4 253L607.2 252.1L605.8 251L604.2 249.6L602.3 248L600.2 246.3L598 244.6L595.7 242.9L593.3 241.3L591 239.9L588.6 238.7L586.1 237.5L583.6 236.4L581.1 235.4L578.5 234.4L575.9 233.5L573.2 232.6L570.6 231.8L567.8 230.9L564.8 230.2L561.7 229.5L558.7 228.8L555.7 228.2L553 227.7L550.5 227.2L548.5 226.7L546.8 226.2L545.4 225.8L544.2 225.4L543.3 225L542.5 224.7L541.8 224.4L541.3 224.1L540.8 223.9Z" fill="#f47d12"/>
<path d="M538.5 261.1L539.4 262.2L540.6 263.6L542.1 265.3L543.7 267.2L545.5 269.2L547.2 271.2L548.9 273.2L550.5 275L552 276.9L553.7 278.9L555.5 280.9L557.2 282.9L558.8 284.8L560.3 286.5L561.5 287.9L562.4 289L565.4 286.4L564.5 285.4L563.3 283.9L561.8 282.2L560.2 280.3L558.5 278.3L556.7 276.3L555.1 274.3L553.5 272.5L551.9 270.6L550.2 268.6L548.5 266.6L546.7 264.6L545.1 262.7L543.7 261L542.4 259.6L541.5 258.5Z" fill="#f47d12"/>
<path d="M563.2 289.3L570.7 291.6L571.1 290.7L564.7 286.1Z" fill="#f47d12"/>
<path d="M561.6 286.2L559.5 300.6L560.4 300.8L565.5 287.2Z" fill="#f47d12"/>
<path d="M614.5 292.1L615.4 293L616.8 294.2L618.4 295.6L620.1 297.1L621.9 298.7L623.7 300.2L625.3 301.7L626.6 303L627.8 304.2L629 305.3L630.1 306.5L631.1 307.7L632.1 308.7L632.9 309.7L633.6 310.5L634.2 311.2L637.3 308.1L636.7 307.6L636 306.8L635 305.9L634 304.9L632.8 303.8L631.6 302.7L630.3 301.5L628.9 300.3L627.3 299.2L625.5 298L623.5 296.6L621.5 295.3L619.5 294L617.7 292.9L616.2 292L615.1 291.3Z" fill="#f47d12"/>
<path d="M639.2 287.6L638.9 288.6L638.6 289.8L638.2 291.3L637.8 292.9L637.3 294.6L636.9 296.3L636.4 297.9L636 299.4L635.7 300.8L635.4 302.2L635 303.6L634.7 305L634.4 306.3L634.1 307.5L633.8 308.5L633.6 309.2L637.9 310.1L638 309.3L638.2 308.3L638.3 307.2L638.6 305.8L638.8 304.4L639 302.9L639.3 301.4L639.5 300L639.6 298.5L639.7 296.8L639.9 295L640 293.3L640.1 291.6L640.2 290L640.2 288.8L640.2 287.8Z" fill="#f47d12"/>
<path d="M633.4 310.3L633.8 311.4L634.2 312.9L634.7 314.6L635.3 316.6L635.9 318.6L636.5 320.6L637.1 322.6L637.6 324.3L638.2 325.9L638.8 327.6L639.3 329.2L639.9 330.8L640.5 332.2L641 333.5L641.4 334.5L641.7 335.4L645.8 333.8L645.5 333L645.1 331.9L644.6 330.6L644 329.2L643.5 327.7L642.9 326.1L642.3 324.5L641.8 323L641.3 321.3L640.8 319.4L640.3 317.4L639.7 315.3L639.2 313.4L638.7 311.6L638.4 310.1L638.1 309Z" fill="#f47d12"/>
<path d="M673.2 287.9L673.8 289.6L674.7 291.8L675.7 294.5L676.9 297.4L678.2 300.4L679.5 303.4L680.6 306.2L681.7 308.7L682.7 310.9L683.8 313.2L684.9 315.5L685.9 317.6L686.9 319.6L687.7 321.4L688.4 322.9L688.9 324.1L694.3 321.2L693.6 320.1L692.7 318.7L691.7 317L690.6 315.1L689.3 313.1L688.1 311L686.8 308.8L685.6 306.7L684.2 304.4L682.6 301.8L681 299L679.3 296.2L677.8 293.5L676.3 291L675.1 289L674.1 287.5Z" fill="#f47d12"/>
<path d="M692.7 328.1L694.8 327.9L697.7 327.7L701.1 327.5L704.9 327.3L708.8 327L712.7 326.8L716.4 326.5L719.6 326.2L722.6 326.2L725.6 326.2L728.6 326.2L731.4 326.1L734 326.1L736.3 326.1L738.3 326.1L739.7 326.1L739.2 319.1L737.7 319.4L735.8 319.7L733.5 320.1L731 320.4L728.2 320.8L725.3 321.2L722.4 321.5L719.4 321.8L716.2 321.8L712.6 321.7L708.7 321.6L704.8 321.6L701 321.5L697.6 321.3L694.7 321.2L692.5 321.1Z" fill="#f47d12"/>
<path d="M740.8 325.9L742 325.2L743.6 324.4L745.5 323.4L747.6 322.3L749.9 321.2L752.1 320.1L754.3 319.1L756.2 318.1L758.3 317.5L760.5 317L762.7 316.4L764.9 315.8L767 315.3L768.9 314.9L770.5 314.6L771.7 314.4L769.1 306.9L768 307.5L766.6 308.3L764.8 309.1L762.9 310L760.8 311L758.7 312L756.6 313L754.6 314L752.5 314.7L750.2 315.4L747.8 316.2L745.4 317L743.2 317.8L741.1 318.5L739.4 319L738.1 319.4Z" fill="#f47d12"/>
<path d="M689.7 324.1L689 334.2L694.2 335L696.7 325.2Z" fill="#f47d12"/>
<path d="M736.1 321.8L734.4 334.1L738.6 335.1L742.9 323.5Z" fill="#f47d12"/>
<path d="M683 308Q695.4 320 712.2 324Q697.4 328.7 691.1 342.9Q690.1 324.7 683 308Z" fill="#f47d12"/>
<path d="M755.2 316.2Q742.4 325.3 735.3 339.4Q734.2 327.2 722.5 323.9Q739.1 321.4 755.2 316.2Z" fill="#f47d12"/>
<path d="M763.4 299.7L772.4 312.1L759.4 315.6Z" fill="#f47d12"/>
<path d="M707.8 246.9L707.8 247.9L707.9 249.2L707.9 250.8L708 252.6L708.1 254.4L708.2 256.3L708.4 258.3L708.6 260.1L708.9 261.9L709.2 263.7L709.6 265.6L710.1 267.5L710.5 269.3L710.8 271L711.2 272.6L711.4 274.1L711.4 275.5L711.4 276.9L711.4 278.3L711.3 279.7L711.2 280.9L711.1 282L711 283L710.9 283.8L717 283.7L716.9 283L716.8 282L716.7 280.9L716.6 279.6L716.4 278.1L716.3 276.6L716 275L715.7 273.4L715.4 271.8L715 270.1L714.6 268.3L714.1 266.5L713.7 264.7L713.2 262.9L712.8 261.1L712.5 259.5L712.3 257.8L712.1 256L711.9 254.1L711.7 252.3L711.6 250.6L711.5 249L711.4 247.7L711.3 246.7Z" fill="#f47d12"/>
<path d="M711.7 280.6L711.2 281.5L710.4 282.5L709.5 283.8L708.5 285.1L707.4 286.5L706.3 287.9L705.3 289.3L704.3 290.5L703.4 291.6L702.4 292.8L701.3 294L700.3 295.1L699.3 296.2L698.5 297.2L697.8 298L697.3 298.7L697.9 299.5L698.6 299L699.6 298.4L700.6 297.7L701.8 296.8L703.1 295.9L704.3 294.9L705.6 293.9L706.8 293L708 291.9L709.4 290.8L710.7 289.6L712 288.4L713.3 287.3L714.5 286.2L715.4 285.4L716.2 284.8Z" fill="#f47d12"/>
<path d="M711.6 284.8L712.7 285.7L714 286.9L715.6 288.5L717.3 290.2L719.1 292L720.9 293.7L722.7 295.4L724.2 296.9L725.7 298.3L727.2 299.7L728.7 301.1L730.2 302.5L731.6 303.7L732.8 304.8L733.9 305.7L734.7 306.4L735.5 305.7L734.8 304.8L734 303.7L733 302.4L731.9 300.9L730.6 299.4L729.3 297.7L728.1 296.1L726.8 294.5L725.5 292.8L724.1 290.9L722.5 289L720.9 287L719.5 285L718.1 283.3L717 281.8L716.2 280.7Z" fill="#f47d12"/>
<path d="M538.6 309.3L539.6 310.3L541 311.5L542.8 313.1L544.7 314.7L546.7 316.5L548.7 318.3L550.7 319.9L552.6 321.4L554.3 322.7L556 324.2L557.7 325.6L559.4 327L561.2 328.3L563.1 329.5L565.2 330.4L567.3 331.2L569.6 331.6L571.9 331.7L574.2 331.6L576.5 331.4L578.7 331L580.9 330.5L582.9 330.1L584.8 329.6L586.8 328.9L588.8 328.2L590.7 327.3L592.5 326.4L594.1 325.5L595.5 324.7L596.7 324.1L597.5 323.7L594.2 317.5L593.2 318.1L592.1 318.9L590.7 319.7L589.3 320.6L587.7 321.5L586.1 322.4L584.5 323.1L583 323.7L581.3 324.2L579.4 324.8L577.5 325.3L575.6 325.7L573.7 326.1L571.8 326.2L570.1 326.2L568.5 326L567 325.6L565.5 325L563.9 324.1L562.2 323L560.6 321.8L558.8 320.5L557.1 319.2L555.3 317.9L553.5 316.5L551.6 314.9L549.6 313.2L547.6 311.4L545.7 309.8L544 308.2L542.5 307L541.4 306Z" fill="#f47d12"/>
<path d="M593.8 323.5L594.7 324L595.8 324.6L597 325.4L598.5 326.2L599.9 327.1L601.5 328.1L602.9 328.9L604.3 329.8L605.7 330.7L607.1 331.6L608.6 332.6L610.1 333.5L611.4 334.4L612.7 335.2L613.7 335.9L614.5 336.4L617.1 332.8L616.3 332.2L615.3 331.5L614.1 330.6L612.8 329.6L611.4 328.5L610 327.5L608.6 326.4L607.3 325.5L606.1 324.4L604.7 323.4L603.4 322.3L602 321.2L600.7 320.1L599.5 319.2L598.6 318.4L597.9 317.8Z" fill="#f47d12"/>
<path d="M598.8 322.1L597.9 315.7L597 315.5L593.7 321.1Z" fill="#f47d12"/>
<path d="M163.1 247.5L163 248.2L162.8 249.1L162.6 250.2L162.4 251.4L162.1 252.7L161.8 254.2L161.5 255.7L161.2 257.4L160.6 259.4L160 261.7L159.3 264.3L158.5 266.9L157.8 269.4L157.2 271.8L156.6 273.7L156.2 275.1L163.3 276.7L163.5 275.3L163.8 273.3L164.2 270.9L164.7 268.3L165.2 265.6L165.6 263L166 260.6L166.3 258.5L166.7 256.8L167 255.2L167.3 253.7L167.6 252.4L167.8 251.2L168 250.1L168.2 249.2L168.3 248.5Z" fill="#f47d12"/>
<path d="M160.4 279.6L161.6 279.2L163.2 278.7L165.2 278.3L167.4 277.7L169.7 277.1L172 276.5L174.2 275.9L176.3 275.2L178.2 274.7L180.2 274.2L182.2 273.6L184.1 273L186.1 272.3L187.9 271.6L189.6 270.6L191.1 269.5L192.2 267.9L192.8 266.2L193.2 264.5L193.3 262.9L193.3 261.3L193.3 260L193.2 258.9L193.2 258.1L192.1 257.9L191.8 258.7L191.5 259.8L191.1 261.1L190.7 262.4L190.3 263.8L189.7 264.9L189 265.8L188.2 266.4L187.3 267L186.1 267.6L184.6 268.2L182.8 268.8L181 269.3L179 269.7L177 270.2L175.1 270.6L173.1 271L170.9 271.3L168.6 271.5L166.3 271.8L164.1 272L162.1 272.1L160.4 272.3L159.1 272.3Z" fill="#f47d12"/>
<path d="M157.4 273.1L156.5 274L155.3 275.2L154 276.6L152.5 278.1L150.8 279.6L149.2 281.1L147.7 282.6L146.3 283.8L144.7 284.7L143.1 285.7L141.3 286.6L139.6 287.5L138 288.3L136.5 289.1L135.2 289.7L134.3 290.1L137.3 295.6L138.2 295.1L139.4 294.4L140.8 293.5L142.4 292.5L144.2 291.5L145.9 290.4L147.7 289.2L149.3 288L151 286.9L152.9 285.6L154.7 284.3L156.6 282.9L158.3 281.5L159.8 280.4L161.1 279.4L162.1 278.7Z" fill="#f47d12"/>
<path d="M135.9 289.7L134.6 289.8L132.9 289.9L130.8 290L128.5 290.1L126.2 290.1L123.9 290.1L121.8 290.2L120 290.2L118.5 290.1L116.9 290L115.5 289.9L114.1 289.7L112.9 289.6L111.8 289.5L110.9 289.4L110.1 289.3L109.6 292.5L110.3 292.6L111.2 292.8L112.3 293.1L113.6 293.4L115 293.6L116.4 293.9L118 294.2L119.7 294.4L121.5 294.6L123.7 294.9L126 295.1L128.4 295.3L130.6 295.5L132.7 295.7L134.4 295.9L135.7 296Z" fill="#f47d12"/>
<path d="M132.7 291.5L132.3 304.1L133.3 304.4L138.9 293.1Z" fill="#f47d12"/>
<path d="M163 261.1Q164.3 271.5 174.6 273.1Q160.6 277.7 148.1 285.6Q157.7 274.7 163 261.1Z" fill="#f47d12"/>
<path d="M231 247.6L230.7 249.4L230.4 251.8L230.1 254.6L229.7 257.6L229.2 260.8L228.6 263.8L227.9 266.6L227.1 269L226.1 271.1L225 273.1L223.8 275.1L222.4 276.9L220.9 278.8L219.3 280.5L217.6 282.3L215.8 284L214 285.5L212 286.9L209.8 288.3L207.5 289.6L205.1 291L202.7 292.5L200.3 294.1L198 295.8L195.8 297.7L193.6 299.6L191.4 301.7L189.2 303.7L187.1 305.9L185.1 308L183.3 310.1L181.6 312.3L180 314.3L178.5 316.4L177.2 318.5L176 320.6L174.9 322.7L173.9 324.7L173 326.7L172.2 328.6L171.4 330.7L170.7 332.9L170.1 335.1L169.6 337.2L169.2 339.1L168.8 340.8L168.4 342.1L168.1 343L178.5 344.5L178.5 343.3L178.4 341.8L178.4 340.2L178.4 338.4L178.5 336.5L178.6 334.6L178.9 332.7L179.2 330.9L179.7 329.1L180.3 327.2L180.9 325.3L181.7 323.3L182.5 321.3L183.5 319.3L184.6 317.4L185.8 315.4L187.3 313.5L189 311.5L190.9 309.5L192.9 307.5L195 305.5L197.1 303.5L199.2 301.7L201.3 299.9L203.3 298.4L205.5 296.9L207.8 295.5L210.2 294.2L212.6 292.8L214.9 291.3L217.2 289.6L219.3 287.9L221.3 286L223.1 284.1L224.9 282.2L226.5 280.2L228.1 278L229.5 275.8L230.8 273.4L232 270.9L233 268.1L233.8 264.9L234.4 261.6L234.9 258.3L235.3 255.2L235.6 252.4L235.9 250.1L236.1 248.4Z" fill="#f47d12"/>
<path d="M176.7 323.8C178.8 324.7 185.4 338.2 187.7 340.8C190 343.4 193.2 341.2 194.1 343.4C194.9 345.5 195.4 355.3 194.1 356.7C192.7 358.2 185.8 352.6 184.1 354.1C182.3 355.6 182.7 369.2 181.1 368.1C179.5 367 173.4 350.3 172.1 345.8C170.9 341.2 171.1 336.7 171.7 333.8C172.3 330.9 174.6 322.9 176.7 323.8Z" fill="#f47d12"/>
<path d="M266.2 251.3L267 252L268.1 252.9L269.6 254.1L271.2 255.3L273 256.6L275 257.7L277 258.6L279.4 259.2L281.9 258.6L283.8 257.5L285.3 256.2L286.5 254.8L287.5 253.5L288.3 252.4L288.8 251.5L289.2 250.9L285.6 247.1L284.8 247.6L283.8 248.3L282.8 249.1L281.8 249.9L280.8 250.5L280 250.9L279.4 251L279.4 250.8L279.1 250.9L277.9 250.7L276.4 250.2L274.7 249.4L272.9 248.6L271.3 247.8L269.9 247.1L268.8 246.7Z" fill="#f47d12"/>
<path d="M275.3 254.5L275.8 255.7L276.3 257.3L276.8 259.1L277.4 261.2L277.9 263.4L278.5 265.6L278.9 267.9L279.3 270L279.2 272.2L279.1 274.6L278.9 277.2L278.7 279.8L278.4 282.2L278.2 284.4L278 286.3L277.8 287.7L283 288.1L283.1 286.7L283.1 284.8L283.3 282.6L283.4 280.1L283.5 277.5L283.5 274.8L283.6 272.3L283.5 269.9L283.8 267.6L284 265.2L284.1 262.8L284.2 260.5L284.3 258.3L284.4 256.3L284.5 254.7L284.7 253.5Z" fill="#f47d12"/>
<path d="M321.8 260.1L325.8 249.5L321.7 248.6L320.8 259.9Z" fill="#f47d12"/>
<path d="M331.3 285.2L332.1 284.2L333.1 282.9L334.4 281.4L335.7 279.7L337.1 278.1L338.5 276.4L339.8 275L341 273.9L342.1 273L343.2 272.2L344.3 271.4L345.4 270.8L346.5 270.2L347.7 269.6L348.9 269.1L350.1 268.6L351.3 268.1L352.7 267.8L354.2 267.4L355.7 267.1L357.1 266.9L358.5 266.6L359.6 266.5L360.5 266.3L359.6 261.6L358.8 261.8L357.7 262L356.3 262.2L354.8 262.5L353.2 262.8L351.6 263.2L349.9 263.6L348.4 264.1L347.1 264.6L345.7 265.2L344.4 265.7L343 266.4L341.7 267.1L340.3 267.9L338.9 268.9L337.5 270L336.1 271.3L334.6 272.9L333.1 274.7L331.6 276.4L330.3 278.1L329 279.7L328 280.9L327.3 281.8Z" fill="#f47d12"/>
<path d="M343.3 283.1L341.3 272L337.2 272.7L339.2 283.9Z" fill="#f47d12"/>
<path d="M86.2 345.8L87.2 345.3L88.5 344.7L90 343.8L91.7 342.9L93.4 342L95.2 341.1L97 340.3L98.7 339.7L100.5 339.3L102.6 338.8L104.9 338.5L107.3 338.1L109.5 337.8L111.6 337.6L113.3 337.5L114.7 337.4L113.1 330.2L111.9 330.7L110.2 331.2L108.2 331.8L106 332.5L103.7 333.2L101.3 334L99.1 334.9L97.1 335.8L95.3 336.9L93.5 338.1L91.8 339.4L90.2 340.7L88.7 342L87.5 343.2L86.4 344.2L85.6 344.9Z" fill="#f47d12"/>
<path d="M117 335.8L117.1 335.1L117.4 334.3L117.8 333.3L118.3 332.3L118.7 331.2L119.2 330L119.7 328.9L120.1 327.8L120.4 326.8L120.8 325.7L121.2 324.6L121.5 323.5L121.8 322.4L122 321.5L122.2 320.7L122.3 320.1L121.4 319.6L120.9 320L120.4 320.7L119.8 321.4L119.1 322.3L118.5 323.2L117.8 324.1L117.1 325L116.4 325.8L115.7 326.5L115 327.4L114.2 328.3L113.4 329.2L112.6 330L111.9 330.7L111.3 331.4L110.8 331.8Z" fill="#f47d12"/>
<path d="M111.3 336.4L112.1 337L113.1 337.8L114.3 338.8L115.6 339.9L117.1 341.1L118.6 342.5L120.2 344L121.9 345.6L123.7 347.4L125.6 349.5L127.7 351.8L129.9 354.1L132 356.5L134.1 358.9L136 361.2L137.7 363.3L139.2 365.4L140.6 367.4L142 369.5L143.2 371.5L144.4 373.5L145.5 375.4L146.5 377.3L147.5 379L148.2 380.6L148.8 382.2L149.3 383.7L149.8 385.1L150.2 386.4L150.5 387.6L150.8 388.6L151 389.5L158.5 385.8L158 385.2L157.4 384.4L156.7 383.4L156 382.2L155.1 380.9L154.2 379.4L153.1 377.9L152.1 376.4L151.1 374.7L150 372.8L148.9 370.9L147.7 368.8L146.4 366.7L145 364.5L143.5 362.3L141.9 360.1L140.1 357.8L138.1 355.5L135.9 353L133.8 350.6L131.6 348.2L129.5 345.9L127.5 343.8L125.7 342L124.2 340.2L122.7 338.4L121.3 336.9L120.1 335.4L118.9 334.1L117.9 332.9L117.1 332L116.4 331.2Z" fill="#f47d12"/>
<path d="M150.8 386.1L150.7 386.9L150.4 388.1L150 389.4L149.6 390.8L149.1 392.3L148.7 393.7L148.3 395.1L147.9 396.3L147.4 397.4L146.8 398.6L146.3 399.7L145.7 400.8L145.2 401.8L144.7 402.8L144.3 403.5L144 404.2L149.6 407L149.9 406.4L150.3 405.7L150.8 404.7L151.3 403.7L151.9 402.5L152.5 401.3L153.1 400.1L153.6 398.9L154.3 397.7L155 396.3L155.7 394.9L156.4 393.5L157.1 392.1L157.7 390.9L158.2 389.9L158.7 389.2Z" fill="#f47d12"/>
<path d="M146.5 371Q157.3 384.8 173.3 392.1Q157.6 393.4 147.5 405.5Q150.9 388.1 146.5 371Z" fill="#f47d12"/>
<path d="M121.7 320.6Q118.7 333.2 124.8 344.7Q113.2 337.4 99.5 337.4Q112.4 331.4 121.7 320.6Z" fill="#f47d12"/>
<path d="M153.8 391.3L155.5 391.3L157.7 391.3L160.3 391.4L163.2 391.6L166.2 391.8L169.4 392.1L172.5 392.4L175.4 392.7L178.3 393.4L181.3 394.2L184.3 395L187.5 395.9L190.7 396.9L193.9 397.8L197.1 398.6L200.3 399.3L203.4 400L206.6 400.7L209.7 401.3L212.9 401.9L216 402.4L219.2 402.8L222.4 403.2L225.6 403.5L228.8 403.7L232.2 403.8L235.5 403.8L238.8 403.7L242 403.6L245.1 403.5L247.9 403.5L250.6 403.6L253 403.7L255.4 403.8L257.5 403.9L259.4 404L261.3 404.2L263 404.5L264.7 404.9L266.3 405.3L267.9 405.9L269.5 406.7L271.1 407.5L272.7 408.5L274.2 409.5L275.7 410.5L277.1 411.5L278.4 412.5L279.6 413.4L280.6 414.3L281.5 415.3L282.5 416.3L283.4 417.4L284.4 418.5L285.4 419.6L286.5 420.6L287.6 421.7L288.7 422.7L289.7 423.7L290.7 424.6L291.7 425.4L292.5 426.2L293.1 426.8L293.6 427.3L298.9 419.5L298.2 419.2L297.3 418.8L296.4 418.4L295.3 417.9L294.2 417.3L293.1 416.7L292 416.1L291 415.5L290.2 414.8L289.4 413.9L288.5 412.9L287.5 411.8L286.5 410.6L285.3 409.4L284 408.2L282.6 407.1L281.1 406L279.5 405L277.8 403.9L276.1 402.8L274.2 401.8L272.3 400.9L270.2 400L268.2 399.3L266.1 398.8L264 398.4L262 398.2L259.9 398L257.8 397.9L255.6 397.9L253.2 397.8L250.7 397.8L247.9 397.7L245 397.8L241.9 397.8L238.7 397.9L235.4 398L232.2 398L229.1 398L226 397.8L223 397.5L220 397.1L216.9 396.7L213.8 396.2L210.8 395.6L207.7 395L204.6 394.4L201.5 393.7L198.5 393L195.4 392.2L192.2 391.3L189.1 390.4L185.9 389.5L182.8 388.6L179.7 387.8L176.7 387.1L173.6 386.2L170.5 385.5L167.3 384.7L164.2 384.1L161.4 383.4L158.8 382.9L156.7 382.4L155.2 381.9Z" fill="#f47d12"/>
<path d="M97.7 379.5L98.2 380.6L99 381.9L100 383.5L101.1 385.2L102.2 387L103.3 388.8L104.4 390.6L105.2 392.2L106.2 393.7L107.2 395.4L108.2 397.2L109.2 398.9L110.1 400.6L110.9 402.1L111.6 403.5L112.1 404.5L120.7 398.5L119.9 397.7L118.9 396.7L117.8 395.3L116.5 393.8L115.2 392.2L113.7 390.6L112.3 389L110.9 387.6L109.3 386.3L107.6 385L105.9 383.6L104.1 382.3L102.4 381.2L100.9 380.1L99.6 379.3L98.5 378.8Z" fill="#f47d12"/>
<path d="M115.6 406.7L117.1 406.7L119.1 406.6L121.3 406.6L123.7 406.7L126.3 406.8L128.8 407L131.3 407.3L133.5 407.8L135.7 408.6L137.9 409.6L140.2 410.7L142.4 411.9L144.7 413.2L147 414.5L149.1 415.9L151.2 417.2L153.1 418.5L155 419.9L156.7 421.4L158.5 422.9L160.3 424.5L162.2 426L164.2 427.5L166.2 428.8L168.2 430L170.2 431.1L172.2 432.2L174.2 433.2L176.3 434.1L178.6 435L181 435.8L183.6 436.6L186.4 437.3L189.4 437.9L192.6 438.5L195.8 439L199.1 439.4L202.4 439.9L205.7 440.2L208.9 440.6L212.2 440.9L215.5 441.2L218.9 441.4L222.2 441.6L225.5 441.7L228.5 441.9L231.3 442.1L233.9 442.2L236.1 442.4L238.2 442.6L240.2 442.7L241.9 442.9L243.5 443.1L244.9 443.2L246.1 443.3L247.1 443.4L247.6 439.2L246.7 439L245.5 438.8L244.2 438.5L242.6 438.2L240.8 437.9L238.8 437.6L236.6 437.3L234.3 437L231.7 436.8L228.8 436.7L225.7 436.5L222.5 436.3L219.2 436.2L215.9 435.9L212.6 435.7L209.5 435.4L206.4 435L203.1 434.5L199.9 434L196.7 433.5L193.5 433L190.5 432.4L187.7 431.7L185.1 431L182.7 430.3L180.6 429.6L178.6 428.8L176.6 427.9L174.8 427L173 426.1L171.1 425L169.3 423.9L167.5 422.7L165.8 421.4L164 420L162.3 418.5L160.5 417L158.6 415.4L156.6 413.8L154.4 412.4L152.3 410.9L150.1 409.5L147.8 408.1L145.4 406.6L143 405.3L140.6 404L138.1 402.9L135.7 401.8L133.1 400.8L130.4 399.8L127.6 399.1L124.9 398.4L122.4 397.8L120.2 397.2L118.4 396.8L117.1 396.3Z" fill="#f47d12"/>
<path d="M248.1 443.2L262 436L261.6 435L246.6 439.3Z" fill="#f47d12"/>
<path d="M241.4 442.3L249.1 444.7L249.6 443.8L243.4 438.6Z" fill="#f47d12"/>
<path d="M111.6 399.4L111.5 400.4L111.2 401.6L110.8 403.2L110.4 404.9L109.9 406.7L109.4 408.5L109 410.4L108.7 412.1L108.1 413.8L107.5 415.6L107 417.4L106.5 419.3L106 421L105.6 422.5L105.2 423.8L105 424.8L110.5 426.3L110.8 425.3L111.2 424L111.6 422.5L112 420.8L112.5 419.1L113.1 417.3L113.6 415.6L114.1 414.1L114.9 412.7L115.9 411.2L116.8 409.7L117.8 408.2L118.8 406.8L119.7 405.5L120.5 404.4L121.2 403.6Z" fill="#f47d12"/>
<path d="M105.6 386.3Q118.3 398.7 135 404.9Q119.1 406.9 108.7 419.1Q111.8 402.3 105.6 386.3Z" fill="#f47d12"/>
<path d="M453 255C452.2 255 450.8 258.7 450.3 261.1C449.8 263.5 449.4 269.9 449.3 273C449.2 276.1 449.8 282 449.5 284.4C449.2 286.8 447.8 289.5 447 291C446.2 292.5 445.3 293.8 443.3 295.3C441.3 296.8 432.4 299.5 432 302C431.6 304.5 436.3 311.3 440 314C443.7 316.7 454.7 320.7 460 322C465.3 323.3 478.2 325 480 324C481.8 323 475.1 316.7 473.6 314.7C472.1 312.7 469.6 310.6 468.5 309C467.4 307.4 466.1 305 465.1 303C464.1 301 461.8 296.5 461 294C460.2 291.5 459.4 287.2 458.9 284.4C458.4 281.6 457.8 276.1 457.5 273C457.2 269.9 457.1 263.5 456.5 261.1C455.9 258.7 453.8 255 453 255Z" fill="#f47d12"/>
<path d="M436.9 249.7Q451 251.1 461.8 242Q455.2 257 453.6 273.4Q448.9 258.9 436.9 249.7Z" fill="#f47d12"/>
<path d="M378.9 266.8L380.5 266.9L382.7 267L385.2 267.1L388.1 267.3L391.1 267.4L394.1 267.5L397.1 267.7L399.9 267.8L402.6 267.8L405.6 267.7L408.7 267.7L411.7 267.7L414.5 267.6L417.1 267.6L419.2 267.5L420.9 267.4L420.9 266.4L419.3 266.2L417.2 265.9L414.6 265.6L411.8 265.3L408.8 264.9L405.7 264.6L402.8 264.3L400 264L397.3 263.9L394.3 263.7L391.3 263.6L388.3 263.4L385.4 263.3L382.9 263.2L380.7 263.1L379.1 263Z" fill="#f47d12"/>
<path d="M407 268.4L407.7 268.7L408.6 269.2L409.6 269.7L410.7 270.4L411.9 271L413.1 271.7L414.2 272.3L415.2 273L416.2 273.5L417.3 274.1L418.3 274.8L419.4 275.4L420.4 276L421.2 276.5L422 277L422.6 277.3L423.2 276.5L422.7 276L422.1 275.4L421.3 274.7L420.4 274L419.5 273.2L418.5 272.4L417.5 271.6L416.6 270.8L415.6 270.1L414.5 269.4L413.4 268.6L412.3 267.8L411.2 267.1L410.2 266.4L409.4 265.9L408.8 265.5Z" fill="#f47d12"/>
<path d="M488.3 251.2L489 252.6L490 254.5L491.3 256.8L492.7 259.3L494.1 261.8L495.6 264.4L497 266.8L498.3 268.9L499.7 270.8L501.1 272.7L502.5 274.5L503.9 276.2L505.2 277.8L506.4 279.2L507.3 280.3L508 281.3L511.3 278.5L510.5 277.6L509.4 276.5L508.2 275.2L506.8 273.7L505.4 272.1L503.9 270.4L502.4 268.6L501.1 266.9L499.6 265L497.9 262.8L496.2 260.5L494.5 258.1L492.9 255.8L491.4 253.7L490.1 251.9L489.1 250.7Z" fill="#f47d12"/>
<path d="M487.7 276.4L488.8 276.6L490.3 276.8L492.1 277.1L494.1 277.4L496.2 277.7L498.1 278L499.9 278.4L501.4 278.7L502.7 279.1L503.8 279.4L504.9 279.8L506 280.3L506.9 280.7L507.7 281.1L508.4 281.4L509 281.7L510.3 278.1L509.8 277.9L509 277.7L508.2 277.4L507.1 277.1L506 276.7L504.7 276.4L503.4 276.1L501.9 275.8L500.3 275.7L498.4 275.6L496.4 275.5L494.3 275.4L492.3 275.4L490.4 275.4L488.9 275.4L487.8 275.4Z" fill="#f47d12"/>
<path d="M508.4 281.5L509.1 282.1L510 282.7L511 283.4L512.2 284.2L513.6 285.2L515.1 286.4L516.7 287.7L518.5 289.1L520.5 290.9L522.8 293L525.2 295.2L527.8 297.6L530.5 300.1L533.2 302.6L535.9 304.9L538.5 307.1L541.1 309.2L543.7 311.2L546.3 313.2L548.9 315.1L551.5 317L553.9 318.8L556.3 320.5L558.5 322.1L560.6 323.8L562.7 325.5L564.8 327.1L566.7 328.7L568.5 330.1L570.1 331.4L571.4 332.5L572.4 333.4L575.4 329.3L574.3 328.6L572.8 327.7L571.1 326.5L569.2 325.3L567.2 323.9L565 322.4L562.8 320.9L560.5 319.4L558.3 317.8L555.9 316L553.5 314.2L550.9 312.4L548.3 310.5L545.7 308.5L543.2 306.5L540.7 304.5L538.1 302.3L535.5 300L532.8 297.6L530.1 295.1L527.5 292.7L525.1 290.5L522.8 288.4L520.8 286.6L519 285L517.4 283.6L515.9 282.3L514.6 281.2L513.4 280.3L512.4 279.5L511.6 278.8L511 278.2Z" fill="#f47d12"/>
<path d="M519.5 246L521 246.7L523 247.5L525.3 248.5L528 249.5L530.8 250.6L533.6 251.7L536.4 252.7L539.1 253.6L541.6 254.2L544.2 254.8L546.7 255.2L549.2 255.7L551.6 256.2L554.1 256.7L556.5 257.3L558.9 258L561.4 258.8L563.9 259.6L566.4 260.6L568.9 261.6L571.4 262.6L573.9 263.7L576.3 264.8L578.6 265.8L580.9 267.1L583.2 268.5L585.6 269.9L587.9 271.3L590 272.7L592 273.9L593.6 275L594.8 275.9L598.1 269.9L596.7 269.3L595 268.6L592.9 267.6L590.5 266.5L588 265.3L585.4 264.1L582.9 263L580.4 262L578 260.9L575.6 259.8L573.1 258.7L570.5 257.7L567.9 256.6L565.3 255.7L562.7 254.7L560.2 253.9L557.6 253.2L555 252.5L552.5 252L550 251.5L547.5 251.1L545 250.6L542.5 250.1L540.1 249.5L537.5 249L534.6 248.4L531.7 247.7L528.8 247L526 246.4L523.5 245.8L521.4 245.4L519.8 245.1Z" fill="#f47d12"/>
<path d="M535.5 252.9L536.5 254.3L537.8 256.2L539.4 258.4L541.2 260.8L543 263.4L544.8 266L546.6 268.5L548.1 270.8L549.5 273.1L551 275.5L552.4 278L553.8 280.4L555.1 282.6L556.3 284.7L557.3 286.4L558.1 287.7L561 286L560.2 284.7L559.3 283L558.1 280.9L556.8 278.7L555.4 276.2L553.9 273.8L552.4 271.3L551 269L549.6 266.6L548 263.9L546.4 261.2L544.7 258.5L543.2 255.9L541.7 253.6L540.6 251.6L539.7 250.1Z" fill="#f47d12"/>
<path d="M558.9 288.4L570.3 291.7L570.7 290.8L560.2 285.3Z" fill="#f47d12"/>
<path d="M557.8 286.9L559 301.2L560 301.2L561.2 286.9Z" fill="#f47d12"/>
<path d="M519.6 245.6C519.9 244.6 536.1 248.7 539.6 249.9C543 251.2 545.8 254 545.6 254.9C545.3 255.9 541 258.2 537.6 256.9C534.1 255.7 519.4 246.5 519.6 245.6Z" fill="#f47d12"/>
<path d="M593.9 271.8L595.9 285.4L596.9 285.5L599.8 272Z" fill="#f47d12"/>
<path d="M633.9 309.4L634.3 310.7L634.9 312.5L635.5 314.5L636.3 316.9L637 319.3L637.9 321.8L638.7 324.2L639.5 326.4L640.3 328.5L641.2 330.7L642.1 332.8L643 334.9L643.9 336.9L644.7 338.9L645.6 340.8L646.4 342.6L647 344.4L647.6 346.3L648.1 348.2L648.7 350L649.2 351.7L649.7 353.2L650 354.4L650.2 355.4L657.2 352.3L656.6 351.5L655.9 350.4L655 349.1L654.2 347.6L653.2 346L652.2 344.3L651.2 342.6L650.2 340.8L649.4 339L648.5 337.1L647.6 335.2L646.7 333.2L645.7 331.2L644.8 329.1L643.9 327.1L643.1 325.1L642.4 322.9L641.6 320.6L640.8 318.1L640.1 315.7L639.4 313.4L638.8 311.3L638.3 309.5L638 308.2Z" fill="#f47d12"/>
<path d="M569 355.8L566.5 356.7L563.1 357.9L559 359.3L554.6 360.9L550.2 362.4L545.9 363.6L542.2 364.6L539.4 365.1L537.4 365L535.9 364.5L534.6 363.8L533.4 363L532.4 362L531.5 361L530.4 360L529.5 359.2L525.7 364.9L526.4 365.2L527.2 365.8L528.4 366.7L530 367.8L531.9 368.9L534.2 369.8L536.8 370.2L539.8 370.2L543.2 369.7L547.3 368.8L551.7 367.5L556.3 366.1L560.9 364.7L565 363.3L568.4 362.2L570.8 361.5Z" fill="#f47d12"/>
<path d="M522.6 352.7L540.6 367.2L534 376.6L528 369.6Z" fill="#f47d12"/>
<path d="M550.5 313.6L551.5 314.4L552.7 315.6L554.2 317L555.9 318.5L557.6 320.1L559.4 321.7L561 323.2L562.5 324.6L563.9 326L565.3 327.4L566.7 328.8L568 330.1L569.3 331.3L570.4 332.5L571.3 333.4L571.9 334.2L576.3 329L575.4 328.4L574.3 327.7L573 326.8L571.5 325.8L570 324.8L568.4 323.6L566.9 322.5L565.3 321.4L563.9 320.1L562.2 318.6L560.5 317L558.8 315.4L557.1 313.9L555.6 312.5L554.3 311.3L553.4 310.5Z" fill="#f47d12"/>
<path d="M576 334.4L577 333.6L578.3 332.5L579.9 331.3L581.6 330L583.4 328.6L585.1 327.3L586.8 326.2L588.1 325.2L589.5 324.6L590.9 324L592.3 323.6L593.6 323.1L594.8 322.7L595.9 322.4L596.9 322.2L597.7 322L595.2 315.7L594.5 316L593.7 316.5L592.6 317L591.4 317.6L590 318.3L588.6 319L587.1 319.9L585.6 320.8L583.9 321.7L582.1 322.7L580.2 323.9L578.2 325.1L576.3 326.3L574.7 327.3L573.2 328.2L572.2 328.8Z" fill="#f47d12"/>
<path d="M570.7 331.1L570.7 332.2L570.7 333.7L570.6 335.6L570.4 337.6L570.2 339.7L570.1 341.8L569.9 343.8L569.8 345.6L569.4 347.3L569 349.1L568.7 350.9L568.3 352.6L567.9 354.2L567.5 355.7L567.2 356.9L567 357.8L572.9 358.8L572.9 357.8L573 356.6L573.1 355.1L573.3 353.4L573.5 351.6L573.7 349.8L573.8 348L574 346.3L574.5 344.5L574.9 342.5L575.4 340.5L575.9 338.4L576.3 336.4L576.8 334.7L577.1 333.2L577.5 332.1Z" fill="#f47d12"/>
<path d="M569.6 355.3L568.4 355.6L566.8 355.8L564.8 356.1L562.6 356.5L560.3 356.8L558 357.1L555.8 357.5L553.8 357.8L551.7 358L549.6 358.2L547.4 358.4L545.3 358.6L543.3 358.8L541.5 358.9L540 359.1L538.8 359.2L539.2 363.4L540.3 363.3L541.9 363.2L543.7 363L545.7 362.8L547.8 362.6L550 362.4L552.1 362.2L554.2 362L556.2 361.9L558.5 361.8L560.8 361.7L563.1 361.5L565.3 361.4L567.3 361.3L569 361.3L570.2 361.3Z" fill="#f47d12"/>
<path d="M567.7 360.3L568.5 360.9L569.4 361.7L570.6 362.7L571.8 363.8L573.1 364.9L574.4 366.1L575.6 367.1L576.7 368.1L577.7 368.9L578.8 369.8L579.8 370.6L580.8 371.4L581.8 372.1L582.6 372.7L583.3 373.2L583.9 373.6L584.6 372.9L584.3 372.3L583.7 371.6L583.1 370.8L582.4 369.8L581.6 368.8L580.8 367.8L579.9 366.7L579.1 365.7L578.3 364.6L577.3 363.3L576.3 362L575.2 360.6L574.2 359.3L573.3 358.1L572.6 357.1L572.1 356.3Z" fill="#f47d12"/>
<path d="M561.1 320.6Q574.4 326.4 588.3 322.1Q577 333.4 571.5 348.4Q570.2 333 561.1 320.6Z" fill="#f47d12"/>
<path d="M593.7 320.8L594.8 322L596.2 323.7L597.9 325.7L599.7 328L601.7 330.3L603.6 332.6L605.5 334.6L607.3 336.4L608.8 337.9L610.4 339.3L611.9 340.6L613.4 341.7L614.9 342.7L616.2 343.7L617.6 344.5L618.8 345.3L620.2 346L621.5 346.7L622.8 347.2L624 347.7L625.1 348.1L626.1 348.4L626.9 348.6L627.5 348.8L628 347.9L627.5 347.4L626.8 346.9L625.9 346.4L625 345.7L623.9 345L622.9 344.3L621.8 343.4L620.8 342.5L619.6 341.6L618.3 340.7L617.1 339.7L615.8 338.7L614.4 337.5L613.1 336.3L611.7 335L610.4 333.5L609 331.7L607.5 329.5L605.8 327.1L604.2 324.7L602.6 322.3L601.2 320.1L600 318.2L599.2 316.8Z" fill="#f47d12"/>
<path d="M619.2 345.4L623.7 356.4L624.7 356.2L622.4 344.4Z" fill="#f47d12"/>
<path d="M597.4 362.2L602.1 371.1L605.5 368.6L598.2 361.6Z" fill="#f47d12"/>
<path d="M604.9 359.4L602.2 369.6L605.5 370.1L605.9 359.6Z" fill="#f47d12"/>
<path d="M602.2 371.2L602.9 372.1L604 373.4L605.2 375L606.5 376.7L608 378.5L609.5 380.3L610.9 381.9L612.3 383.4L613.6 384.7L614.9 385.9L616.3 387.1L617.6 388.2L618.9 389.2L620.2 390.1L621.5 390.9L622.7 391.6L624.2 392.1L625.7 392.4L627 392.4L628.2 392.3L629.2 392.1L630 391.9L630.4 391.9L630.6 392L628.9 384.5L628.3 384.7L627.6 385.1L627.1 385.4L626.6 385.7L626.1 385.9L625.7 386L625.3 386.1L624.8 386L624 385.8L622.9 385.3L621.8 384.7L620.5 384L619.2 383.2L617.9 382.3L616.6 381.3L615.3 380.3L614 379.1L612.7 377.5L611.3 375.8L609.9 374.1L608.5 372.4L607.3 370.8L606.3 369.5L605.5 368.5Z" fill="#f47d12"/>
<path d="M631.8 391.5L632.6 390.8L633.8 389.9L635.3 388.9L637 387.7L638.8 386.3L640.6 384.9L642.3 383.2L643.7 381.5L645 379.6L646.1 377.7L647.1 375.6L648 373.5L648.8 371.4L649.6 369.4L650.3 367.6L651 365.9L652 364.4L653 362.9L654 361.4L654.9 360L655.8 358.6L656.6 357.5L657.4 356.5L658 355.8L649.4 352L649.3 352.9L649.1 354.1L648.8 355.5L648.4 357L647.9 358.6L647.4 360.3L646.9 362.1L646.4 363.8L645.6 365.6L644.9 367.6L644.1 369.6L643.3 371.6L642.5 373.5L641.6 375.3L640.7 376.9L639.8 378.2L638.5 379.3L637.1 380.3L635.4 381.3L633.6 382.3L631.9 383.1L630.3 383.8L628.8 384.5L627.7 385Z" fill="#f47d12"/>
<path d="M627 390.8L628 391.6L629.2 392.6L630.7 393.7L632.2 395L633.8 396.4L635.3 397.8L636.7 399.3L637.9 400.8L638.8 402.6L639.8 404.8L640.7 407.1L641.5 409.6L642.3 411.9L643 414.1L643.6 415.9L644.1 417.3L647.3 416.2L647 414.9L646.5 413.1L645.9 410.9L645.2 408.4L644.4 405.9L643.5 403.3L642.6 400.9L641.6 398.8L640.5 396.7L639.3 394.7L637.9 392.7L636.5 390.9L635.2 389.2L634.1 387.8L633.2 386.6L632.6 385.6Z" fill="#f47d12"/>
<path d="M644 416.6L644.2 428.1L645.2 428.2L647.4 416.9Z" fill="#f47d12"/>
<path d="M644.6 418.1L652.6 423.1L653.2 422.3L646.8 415.4Z" fill="#f47d12"/>
<path d="M609.1 385.3Q628.9 384.5 646.8 376.3Q637.4 389.2 643.4 404Q628 391.4 609.1 385.3Z" fill="#f47d12"/>
<path d="M658 352L657.1 350.7L656.1 349L654.9 346.9L653.5 344.5L652.2 342.1L650.7 339.5L649.4 337.1L648 334.9L646.9 332.6L645.7 330.2L644.4 327.7L643.1 325.3L641.9 323.1L640.9 321L639.9 319.3L639.2 318.1L635.4 320L636 321.3L636.9 323L637.9 325.1L638.9 327.4L640.1 329.8L641.3 332.3L642.4 334.8L643.4 337L644.2 339.4L645.1 342.1L646 344.8L646.9 347.4L647.8 350L648.5 352.3L649.1 354.3L649.4 355.8Z" fill="#f47d12"/>
<path d="M655.4 358.3L656.5 357.5L658.1 356.6L659.9 355.6L661.9 354.6L664 353.4L666.2 352.3L668.4 351.3L670.4 350.4L672.6 349.8L674.9 349.2L677.4 348.6L679.9 348L682.4 347.5L684.6 347L686.7 346.5L688.4 346L689.8 345.6L691 345.2L692.1 344.8L692.9 344.3L693.6 343.8L694 343.4L694.1 343.6L694.1 343.8L689.1 338.1L688.7 338.7L688.4 339.3L688.4 339.5L688.5 339.7L688.6 339.8L688.4 340.2L687.8 340.6L686.8 341.1L685.4 341.5L683.5 342L681.3 342.5L678.8 343L676.3 343.6L673.7 344.2L671.2 344.8L668.9 345.5L666.6 346L664.1 346.6L661.6 347.2L659.2 347.8L657 348.4L655 349L653.3 349.3L652 349.6Z" fill="#f47d12"/>
<path d="M644.5 333.1Q656.7 346.7 675 345.9Q656.7 357.1 644.5 374.7Q649.1 353.9 644.5 333.1Z" fill="#f47d12"/>
<path d="M695.4 340.2L695.1 339.4L694.7 338.2L694.3 336.9L693.9 335.5L693.5 334L693.2 332.5L692.8 331L692.6 329.7L692.5 328.4L692.4 326.9L692.4 325.4L692.5 323.9L692.5 322.4L692.5 321.1L692.6 319.9L692.6 319.1L686.6 319L686.6 319.8L686.6 320.9L686.5 322.2L686.5 323.7L686.5 325.4L686.5 327L686.5 328.7L686.6 330.2L686.7 331.8L686.9 333.5L687.1 335.2L687.3 336.8L687.5 338.4L687.7 339.7L687.8 340.8L687.9 341.7Z" fill="#f47d12"/>
<path d="M694.5 343.5L695.3 342.3L696.4 340.7L697.6 338.9L699 337L700.5 335.1L702 333.3L703.5 331.7L704.9 330.6L706.4 329.7L708.1 329L709.8 328.4L711.7 327.9L713.7 327.5L715.7 327.2L717.8 326.8L719.8 326.5L721.9 326.4L724.3 326.4L726.7 326.4L729.1 326.5L731.4 326.6L733.5 326.7L735.2 326.9L736.6 327L736.4 320.2L735.1 320.4L733.4 320.6L731.3 320.8L728.9 321L726.5 321.2L723.9 321.5L721.5 321.9L719.3 322.3L717.2 322.5L715.1 322.8L712.9 323L710.8 323.4L708.6 323.8L706.5 324.4L704.3 325.2L702.2 326.2L700.1 327.5L698 329.1L696 331L694.2 332.8L692.5 334.7L690.9 336.3L689.7 337.6L688.7 338.4Z" fill="#f47d12"/>
<path d="M737.9 326.7L748.2 319.9L746.7 316.9L735 320.5Z" fill="#f47d12"/>
<path d="M732.7 323.4L735 348.3L736 348.3L740.3 323.7Z" fill="#f47d12"/>
<path d="M688 342.1L688.7 343.5L689.6 345.5L690.6 348L691.8 350.6L692.9 353.3L694 356L695.1 358.4L696 360.4L696.7 362.1L697.3 363.7L697.9 365.2L698.5 366.6L699 367.8L699.5 368.8L699.9 369.7L700.3 370.4L701.3 370.1L701.2 369.3L701 368.4L700.9 367.2L700.6 365.9L700.3 364.5L700 362.9L699.6 361.2L699.2 359.4L698.8 357.2L698.3 354.6L697.7 351.8L697 348.9L696.4 346.1L695.9 343.6L695.5 341.4L695.3 339.8Z" fill="#f47d12"/>
<path d="M688.9 323.7Q693.9 333.3 703.6 328.4Q695.9 341.6 696.6 356.8Q692.2 340.4 688.9 323.7Z" fill="#f47d12"/>
<path d="M669.3 375.2L674.2 381.8L677.1 378.7L670 374.5Z" fill="#f47d12"/>
<path d="M677.2 369.8L673.6 379.8L677.7 380.6L678.1 370Z" fill="#f47d12"/>
<path d="M673.6 380.7L673.9 382.2L674.3 384.3L674.8 386.9L675.4 389.7L676 392.6L676.5 395.4L677.1 398L677.6 400.3L677.9 402.3L678.2 404.2L678.4 406L678.7 407.7L678.9 409.2L679.1 410.6L679.3 411.7L679.3 412.6L685.9 410.9L685.5 410.1L685.1 409L684.6 407.7L684.1 406.3L683.5 404.7L682.9 403L682.3 401.2L681.7 399.3L681.2 397.1L680.7 394.5L680.1 391.7L679.5 388.9L679 386.1L678.5 383.5L678 381.4L677.7 379.8Z" fill="#f47d12"/>
<path d="M683.5 413.6L693.1 408.3L692.9 407.3L681.8 407.9Z" fill="#f47d12"/>
<path d="M679.3 411.1L679.2 412.4L679.1 414L678.8 416L678.6 418.2L678.3 420.5L678 422.8L677.8 425.2L677.5 427.4L677 429.6L676.4 431.9L675.9 434.4L675.3 436.8L674.8 439.1L674.3 441.2L673.8 442.9L673.5 444.2L681 445.2L681 443.8L681 442.1L681.1 439.9L681.2 437.6L681.3 435.1L681.5 432.7L681.6 430.3L681.7 428.1L682.3 426L682.8 423.7L683.4 421.4L684 419.2L684.6 417.1L685.1 415.2L685.6 413.6L686 412.4Z" fill="#f47d12"/>
<path d="M674.5 443L673.8 443.9L672.9 445.1L671.7 446.4L670.5 447.9L669.2 449.4L667.9 450.9L666.7 452.3L665.6 453.5L664.4 454.4L663.2 455.3L661.9 456.2L660.7 457L659.6 457.8L658.6 458.4L657.6 459L656.9 459.4L662.5 465.9L662.9 465.2L663.6 464.5L664.5 463.5L665.4 462.5L666.5 461.4L667.6 460.2L668.7 459L669.7 457.8L671 456.6L672.5 455.4L673.9 454L675.4 452.6L676.8 451.2L678.1 450L679.2 449L680 448.3Z" fill="#f47d12"/>
<path d="M675.8 449.2L676.9 449.5L678.4 449.9L680.2 450.4L682.2 451L684.4 451.7L686.6 452.4L688.7 453L690.8 453.6L692.9 454.6L695.1 455.6L697.4 456.6L699.7 457.6L702 458.6L703.9 459.5L705.6 460.2L706.8 460.8L709.1 454.4L707.8 454.1L706 453.7L703.9 453.1L701.6 452.4L699.2 451.7L696.8 451L694.5 450.3L692.4 449.7L690.5 448.7L688.5 447.7L686.5 446.6L684.6 445.6L682.7 444.5L681.1 443.6L679.7 442.8L678.7 442.1Z" fill="#f47d12"/>
<path d="M710.6 459.7L711.1 458.9L711.8 457.9L712.6 456.7L713.6 455.3L714.6 453.9L715.7 452.3L716.7 450.7L717.7 449.1L718.9 447.5L720.2 445.7L721.5 443.8L722.8 441.9L724 440L725.1 438.4L726.1 437L726.8 436L720.2 432.2L719.7 433.4L719 434.9L718.2 436.7L717.2 438.7L716.2 440.7L715.2 442.7L714.3 444.6L713.4 446.3L712.4 447.6L711.2 449L710.1 450.4L708.9 451.7L707.8 452.9L706.8 453.9L706 454.9L705.3 455.5Z" fill="#f47d12"/>
<path d="M704.6 457.9L707 475.8L712.1 475.4L711.3 457.3Z" fill="#f47d12"/>
<path d="M679.7 427.3Q682.3 443.1 694.9 452.9Q678.3 451.1 663.8 459.5Q674.5 444.7 679.7 427.3Z" fill="#f47d12"/>
<path d="M691.9 451.8Q706.5 452.8 718.3 444.1Q711 458.5 709.9 474.6Q704.4 460.4 691.9 451.8Z" fill="#f47d12"/>
<path d="M727 432.6L726.3 431.5L725.5 430.1L724.4 428.4L723.4 426.5L722.3 424.6L721.3 422.6L720.3 420.8L719.6 419.1L719 417.6L718.4 415.9L717.9 414.1L717.5 412.4L717.1 410.8L716.7 409.3L716.4 408L716 407.1L715 407.2L715 408.2L714.9 409.5L714.9 411L714.9 412.7L714.9 414.6L715 416.5L715.2 418.4L715.5 420.3L715.9 422.3L716.5 424.5L717.2 426.7L717.9 428.9L718.6 431L719.3 432.9L719.7 434.5L720 435.6Z" fill="#f47d12"/>
<path d="M718.6 416.6L722.4 408L721.5 407.5L715.7 414.9Z" fill="#f47d12"/>
<path d="M722.6 437.8L723.8 437.9L725.4 438.2L727.2 438.5L729.4 438.9L731.7 439.3L734.1 439.7L736.6 440L739.1 440.2L741.8 440.7L744.8 441.1L748 441.5L751.3 441.9L754.4 442.2L757.1 442.6L759.5 442.8L761.2 443.1L761.7 435.5L759.9 435.5L757.5 435.5L754.7 435.6L751.6 435.5L748.4 435.5L745.3 435.4L742.4 435.3L739.8 435.2L737.6 434.6L735.3 434L733 433.4L730.9 432.7L728.9 432L727.1 431.4L725.6 430.8L724.4 430.4Z" fill="#f47d12"/>
<path d="M762.9 442.8L782 431.2L781.6 430.3L759.9 435.8Z" fill="#f47d12"/>
<path d="M757.6 439.8L763.3 456.1L764.3 456L765.2 438.7Z" fill="#f47d12"/>
<path d="M716.4 416.9Q726.4 431 742.1 438.2Q725.7 439.5 713.7 450.7Q719.3 434.2 716.4 416.9Z" fill="#f47d12"/>
<path d="M729.7 376.7L729 375.4L728.1 373.4L727.1 371.1L726 368.6L724.9 366L723.8 363.5L722.9 361.3L722.2 359.5L721.7 358L721.3 356.6L721 355.4L720.8 354.2L720.6 353.2L720.4 352.3L720.2 351.5L720 350.9L719 351L718.9 351.6L718.8 352.3L718.7 353.3L718.6 354.4L718.5 355.6L718.5 357L718.6 358.6L718.9 360.3L719.2 362.4L719.8 364.8L720.5 367.5L721.2 370.3L721.9 372.9L722.5 375.4L723 377.4L723.3 379Z" fill="#f47d12"/>
<path d="M720.8 362.2L716 355.7L715.1 356.2L718.2 363.6Z" fill="#f47d12"/>
<path d="M724.5 375.1L723.5 376.1L722.2 377.2L720.7 378.6L719 380.1L717.2 381.7L715.4 383.3L713.7 384.8L712.2 386.2L710.8 387.3L709.4 388.5L708.1 389.7L706.8 390.8L705.5 391.9L704.4 393L703.3 394L702.3 395L701.6 396.1L700.9 397.2L700.4 398.2L700 399.2L699.7 400L699.5 400.8L699.3 401.4L699.2 401.9L700 402.4L700.4 402.1L700.9 401.5L701.4 400.9L701.9 400.3L702.5 399.6L703.2 398.8L704 398.1L704.8 397.4L705.7 396.6L706.8 395.7L707.9 394.7L709.2 393.7L710.6 392.7L712 391.7L713.4 390.6L714.9 389.5L716.5 388.4L718.4 387.1L720.3 385.8L722.3 384.5L724.2 383.3L726 382.1L727.5 381.2L728.6 380.6Z" fill="#f47d12"/>
<path d="M707.6 391.4L703.1 377.7L702.1 378L704.3 392.2Z" fill="#f47d12"/>
<path d="M725 380.9L738 387.3L741 381.2L728 374.8Z" fill="#f47d12"/>
<path d="M736.5 384.5L740.2 400.2L741.2 400.2L742.4 384Z" fill="#f47d12"/>
<path d="M741.2 387.2L742.4 386.3L744.1 385.2L746.2 383.9L748.6 382.5L751 380.9L753.4 379.2L755.5 377.4L757.3 375.6L758.7 373.7L759.7 371.8L760.5 369.9L761.2 367.9L761.7 366L762.1 364.1L762.6 362.3L763 360.4L763.5 358.3L764 356L764.5 353.7L764.9 351.3L765.2 349.1L765.5 347L765.8 345.3L765.9 344.1L764.9 343.8L764.5 345L764 346.7L763.4 348.6L762.7 350.8L762 353.1L761.3 355.3L760.6 357.5L759.8 359.4L759.1 361.2L758.5 363.1L757.8 364.8L757.2 366.5L756.5 368.1L755.6 369.5L754.7 370.9L753.6 372.1L752.1 373.4L750.2 374.7L747.9 376L745.6 377.4L743.2 378.6L741 379.7L739.1 380.6L737.7 381.3Z" fill="#f47d12"/>
<path d="M756.5 374.2L769.6 378.7L770 377.8L758.4 370.4Z" fill="#f47d12"/>
<path d="M721.2 362Q729.1 376 742 385.4Q727 382.6 712.8 388.4Q721.8 376.7 721.2 362Z" fill="#f47d12"/>
<path d="M741.4 404.3L742.7 404.8L744.4 405.5L746.5 406.3L748.9 407.2L751.5 408L754.2 408.7L756.9 409.1L759.7 409.1L762.4 408.5L765.1 407.7L767.9 406.6L770.6 405.4L773.3 404L775.9 402.6L778.3 401.2L780.4 399.8L782.5 398.4L784.4 396.8L786.2 395.2L787.8 393.6L789.3 392L790.7 390.4L791.9 388.9L793 387.5L794.2 386.2L795.3 384.9L796.3 383.6L797.1 382.3L797.8 381.2L798.4 380.2L798.9 379.5L799.4 379.1L792.5 375.8L792.3 376.7L792.1 377.7L791.9 378.7L791.7 379.9L791.3 381.1L790.9 382.3L790.4 383.6L789.7 384.9L788.6 386.3L787.5 387.7L786.2 389.3L784.8 390.8L783.4 392.4L781.8 393.9L780.1 395.3L778.3 396.6L776.3 397.9L774 399.3L771.5 400.6L769 401.9L766.4 403.1L763.8 404.1L761.4 404.8L759.2 405.3L757 405.6L754.6 405.6L752 405.3L749.5 404.9L747.1 404.4L744.9 403.9L743 403.5L741.6 403.3Z" fill="#f47d12"/>
<path d="M733.1 459.9L739.8 471.3L743.2 468.7L733.9 459.3Z" fill="#f47d12"/>
<path d="M747.1 463.3L740.6 468.9L743.2 471.1L747.8 464Z" fill="#f47d12"/>
<path d="M739.5 470.4L741.9 476.4L745.8 474.8L743.4 468.8Z" fill="#f47d12"/>
<path d="M603.7 417.3L619.3 413.9L617.9 428.5Z" fill="#f47d12"/>
<path d="M622.5 416.4L622.3 415.7L622.1 414.7L621.9 413.6L621.7 412.4L621.6 411.2L621.4 409.9L621.3 408.7L621.1 407.6L621.3 406.6L621.5 405.5L621.8 404.4L622 403.2L622.3 402.2L622.5 401.2L622.7 400.4L622.9 399.7L618.7 398.8L618.6 399.4L618.4 400.2L618.1 401.2L617.9 402.3L617.6 403.4L617.4 404.6L617.1 405.8L616.9 407L616.5 408.2L616.1 409.4L615.7 410.7L615.4 412L615 413.2L614.7 414.3L614.4 415.2L614.1 415.8Z" fill="#f47d12"/>
<path d="M640.4 399.8L640.6 400.8L640.8 402.1L641.2 403.8L641.5 405.6L641.9 407.4L642.3 409.2L642.6 410.9L642.9 412.3L643.1 413.5L643.4 414.6L643.6 415.7L643.8 416.8L644 417.7L644.1 418.5L644.2 419.2L644.3 419.8L649.3 418.9L649.2 418.3L649.1 417.6L649 416.8L648.8 415.8L648.6 414.8L648.4 413.6L648.1 412.4L647.9 411.2L647.5 409.7L647.1 408.1L646.6 406.3L646.1 404.5L645.6 402.7L645.2 401.1L644.8 399.8L644.5 398.8Z" fill="#f47d12"/>
<path d="M644.7 418.7L644.9 428L645.9 428.2L648.9 419.4Z" fill="#f47d12"/>
<path d="M645.9 420.9L652.8 422.7L653.2 421.8L647.8 417.1Z" fill="#f47d12"/>
<path d="M673.6 399.9L673.7 400.1L673.8 400.5L673.9 401L674 401.6L674.2 402.3L674.5 403.2L674.9 404L675.4 405L675.8 406.1L676.4 407.4L677 408.7L677.7 410L678.4 411.3L679 412.5L679.5 413.5L679.7 414.3L687.1 408.6L686.4 408.1L685.5 407.4L684.5 406.5L683.4 405.6L682.4 404.6L681.4 403.7L680.5 402.9L679.8 402.3L679.5 401.8L679.2 401.3L679.1 400.8L679 400.4L678.9 399.9L678.8 399.5L678.7 399L678.6 398.6Z" fill="#f47d12"/>
<path d="M684.5 414.2L692.7 408.5L692.4 407.6L682.4 407.7Z" fill="#f47d12"/>
<path d="M678.9 410.4L678.8 411.8L678.7 413.7L678.4 415.9L678.1 418.4L677.8 421.1L677.5 423.8L677.3 426.4L677.2 429L676.7 431.4L676.3 434.1L675.9 436.8L675.6 439.5L675.3 442L675 444.2L674.7 446.1L674.4 447.4L683.7 447.7L683.5 446.2L683.2 444.3L683 442.1L682.8 439.6L682.6 437L682.4 434.4L682.3 431.9L682.3 429.6L682.9 427.3L683.6 424.9L684.4 422.4L685.2 420L686 417.7L686.7 415.6L687.4 413.8L688 412.4Z" fill="#f47d12"/>
<path d="M676.1 443.9L675.4 444.6L674.4 445.6L673.2 446.6L671.8 447.8L670.4 449.1L669 450.3L667.7 451.5L666.5 452.6L665.1 453.3L663.7 454L662.2 454.8L660.8 455.5L659.5 456.1L658.3 456.7L657.3 457.1L656.5 457.4L663.6 467L664.1 466.3L664.8 465.4L665.7 464.4L666.7 463.3L667.8 462.2L668.9 461L670 459.8L671.1 458.7L672.5 457.7L674 456.7L675.5 455.6L677.1 454.5L678.6 453.5L679.9 452.6L681.1 451.8L681.9 451.2Z" fill="#f47d12"/>
<path d="M655.3 459.7L668.8 454.4L672 476.8L664.4 470.3Z" fill="#f47d12"/>
<path d="M677.6 452L678.6 452.1L679.7 452.3L681.1 452.5L682.7 452.8L684.4 453.1L686.2 453.4L688.1 453.8L689.9 454.1L691.8 454.8L693.9 455.7L696.2 456.5L698.5 457.3L700.8 458.2L702.8 458.9L704.4 459.6L705.6 460.1L708.1 451.1L706.7 451L705 450.7L702.8 450.4L700.5 450L698.1 449.5L695.7 449.1L693.5 448.7L691.6 448.4L689.9 447.7L688.2 446.9L686.6 446.2L685 445.5L683.6 444.8L682.3 444.2L681.3 443.6L680.5 443.1Z" fill="#f47d12"/>
<path d="M710.1 459L710.6 458.3L711.3 457.3L712.2 456.2L713.3 454.9L714.5 453.5L715.7 451.9L716.9 450.3L718 448.7L719.4 447.1L721 445.3L722.5 443.4L724 441.4L725.5 439.6L726.8 437.9L727.9 436.5L728.8 435.6L720.1 430.3L719.6 431.5L718.9 433.2L718.1 435.1L717.1 437.2L716.1 439.4L715.1 441.5L714.1 443.4L713.3 445L712.1 446.1L710.8 447.3L709.4 448.3L708.1 449.3L706.8 450.2L705.6 451L704.5 451.7L703.6 452.2Z" fill="#f47d12"/>
<path d="M702.2 456.2L702.6 457L703 458.1L703.4 459.5L703.8 461L704.3 462.6L704.8 464.3L705.3 466.1L705.8 467.8L706.2 469.5L706.6 471.3L707.1 473.2L707.5 475L708 476.9L708.4 478.8L708.8 480.5L709.1 482.3L709.5 484L709.9 485.9L710.2 487.8L710.6 489.7L710.8 491.5L711.1 493.1L711.4 494.4L711.6 495.5L712.6 495.4L712.8 494.4L712.9 493L713.1 491.4L713.2 489.5L713.3 487.6L713.3 485.6L713.4 483.6L713.3 481.7L713.1 479.8L712.8 477.9L712.5 476L712.1 474L711.7 472.1L711.4 470.3L711.1 468.6L710.8 466.9L710.8 465.2L710.9 463.5L710.9 461.8L711 460.1L711.1 458.6L711.2 457.2L711.3 456L711.5 455.1Z" fill="#f47d12"/>
<path d="M709.1 478.7L708.6 488L709.5 488.2L712.5 479.4Z" fill="#f47d12"/>
<path d="M680 427.2Q684.3 444.2 699.2 453.4Q680 452.6 662.6 460.8Q675.2 446 680 427.2Z" fill="#f47d12"/>
<path d="M688.1 450.5Q705.6 450.9 720.6 441.9Q710.8 457 709 475Q702.7 459.2 688.1 450.5Z" fill="#f47d12"/>
<path d="M729 430.7L728.1 429.6L726.9 428L725.6 426.2L724.3 424.2L722.9 422.1L721.6 420.1L720.4 418.2L719.5 416.7L718.8 415.4L718.3 414L717.8 412.7L717.4 411.3L717.1 410.1L716.8 409L716.5 408L716.1 407.3L715.1 407.4L715 408.1L714.7 409.1L714.6 410.3L714.4 411.6L714.3 413.1L714.3 414.8L714.4 416.5L714.7 418.4L715.1 420.4L715.8 422.7L716.6 425.2L717.4 427.6L718.3 429.9L719 432.1L719.5 433.9L719.8 435.2Z" fill="#f47d12"/>
<path d="M720.3 420.3L722 407.4L721 407.2L716.2 419.2Z" fill="#f47d12"/>
<path d="M723.6 438L724.7 437.9L726.3 438L728.1 438.1L730.1 438.2L732.2 438.3L734.4 438.5L736.5 438.6L738.4 438.8L740.3 439.1L742.2 439.5L744.2 439.9L746.1 440.3L748.1 440.7L749.9 441L751.5 441.4L753 441.7L754.3 442.2L755.5 442.6L756.5 443L757.4 443.4L758.2 443.8L758.9 444.2L759.5 444.5L760 444.8L762 434.8L761.5 434.9L760.8 435L760 435.1L759.1 435.1L758.1 435.1L757 435.1L755.7 435.1L754.4 435L752.9 434.7L751.2 434.4L749.4 434L747.5 433.6L745.5 433.2L743.5 432.8L741.6 432.4L739.7 432.1L737.8 431.5L735.7 430.9L733.6 430.4L731.5 429.8L729.6 429.3L727.8 428.8L726.3 428.3L725.3 427.9Z" fill="#f47d12"/>
<path d="M763 444.5L782 431.2L781.6 430.3L759 435.1Z" fill="#f47d12"/>
<path d="M755.9 440.3L762.3 456.8L763.3 456.7L766.1 439.3Z" fill="#f47d12"/>
<path d="M716.2 415.7Q727.2 429.6 743.7 436.1Q726.6 438.1 713.8 449.7Q719.7 433 716.2 415.7Z" fill="#f47d12"/>
<path d="M740.4 403.4L741.4 404L742.9 404.7L744.6 405.5L746.6 406.3L748.7 407.2L750.8 407.9L752.9 408.6L754.9 409.1L756.8 409.2L758.6 409.2L760.4 409.1L762.2 409L763.9 408.7L765.7 408.4L767.4 408L769.1 407.6L770.9 406.9L772.7 406.2L774.6 405.3L776.3 404.4L778 403.5L779.4 402.7L780.6 402L781.5 401.5L779.1 397L778.2 397.5L777 398.2L775.5 399L774 399.9L772.3 400.7L770.6 401.5L769 402.2L767.6 402.7L766.1 403.1L764.6 403.4L763.1 403.7L761.6 403.9L760.1 404.1L758.5 404.1L756.9 404.1L755.4 404L753.7 404.1L751.7 404L749.6 403.7L747.4 403.4L745.4 403L743.5 402.7L741.9 402.5L740.6 402.4Z" fill="#f47d12"/>
<path d="M732.8 458.9L739.3 469.7L743.2 466.4L733.6 458.2Z" fill="#f47d12"/>
<path d="M745.2 464.1L740.5 468.9L744.1 471.1L746.1 464.7Z" fill="#f47d12"/>
<path d="M739.2 468.5L739.4 469.6L739.6 471L739.9 472.7L740.3 474.6L740.6 476.6L741 478.7L741.3 480.6L741.7 482.4L741.9 484.1L742.2 485.9L742.5 487.7L742.8 489.5L743.1 491.2L743.3 492.9L743.6 494.4L743.9 495.7L744.1 496.9L744.3 497.9L744.6 498.8L744.8 499.6L745 500.2L745.2 500.7L745.3 501L745.4 501.3L750.9 499.2L750.7 498.8L750.4 498.4L750.2 498L750 497.5L749.7 497L749.4 496.3L749.1 495.5L748.9 494.6L748.6 493.4L748.4 492L748.1 490.4L747.8 488.7L747.6 486.9L747.3 485.1L747 483.3L746.7 481.5L746.4 479.7L746 477.8L745.7 475.7L745.3 473.7L745 471.8L744.6 470.1L744.4 468.7L744.2 467.6Z" fill="#f47d12"/>
<path d="M424.9 298.5L426 299L427.5 299.6L429.2 300.2L431.2 300.9L433.3 301.7L435.4 302.4L437.4 303.2L439.3 304L441.2 304.8L443 305.6L444.8 306.5L446.6 307.4L448.5 308.3L450.3 309.3L452.1 310.2L454 311.3L456 311.8L458.2 312.5L460.3 313.2L462.5 313.9L464.8 314.7L467 315.5L469.3 316.3L471.5 317.1L473.7 318L475.8 318.9L478 319.8L480.1 320.7L482.3 321.6L484.4 322.6L486.5 323.6L488.6 324.6L490.6 325.9L492.7 327.2L494.9 328.6L497 330.1L499.1 331.5L501.1 333L503.1 334.4L504.9 335.7L506.7 337L508.3 338.3L509.9 339.5L511.4 340.6L512.7 341.7L513.8 342.8L514.9 343.8L515.8 345L516.6 346.3L517.4 347.6L518.1 349L518.7 350.4L519.3 351.9L519.8 353.4L520.3 355L520.6 356.4L521.2 357.7L521.7 359.3L522.2 361.1L522.7 362.9L523.1 364.7L523.5 366.4L523.8 367.9L524.1 369.1L535.9 366.9L535.8 365.9L535.7 364.5L535.5 362.7L535.2 360.7L534.9 358.5L534.5 356.2L534 353.8L533.4 351.6L532.4 349.7L531.3 347.9L530.2 346.2L529 344.4L527.7 342.7L526.3 341.1L524.8 339.5L523.2 338L521.6 336.6L519.8 335.3L518.1 334.2L516.3 333.2L514.6 332.2L512.8 331.3L511 330.3L509.1 329.3L507.1 328.1L505 326.9L502.8 325.6L500.6 324.3L498.3 323L496 321.7L493.7 320.5L491.4 319.4L489.2 318.2L487.1 317L484.9 316L482.8 314.9L480.6 313.9L478.5 312.9L476.4 311.9L474.3 310.9L472.3 309.7L470.2 308.6L468.1 307.4L466 306.2L463.9 305L461.8 303.9L459.7 302.8L457.6 301.7L455.4 301.2L453.2 300.8L451 300.4L448.9 300.1L446.8 299.8L444.7 299.5L442.7 299.3L440.7 299L438.6 298.7L436.3 298.5L434.1 298.2L431.8 297.9L429.8 297.8L427.9 297.6L426.3 297.5L425.1 297.5Z" fill="#f47d12"/>
</g>
<path d="M195 342C195.4 338.9 197.3 332 199 329C200.7 326 204.7 322.2 207.5 319.5C210.3 316.8 216 311.6 220 309C224 306.4 232.8 302 237.5 300C242.2 298 250 295.3 255 294C260 292.7 269 291.1 275 290C281 288.9 293.3 286.9 300 286C306.7 285.1 318.3 283.2 325 283C331.7 282.8 343.3 283.8 350 284.5C356.7 285.2 368.3 286.9 375 288C381.7 289.1 394 291.2 400 292.5C406 293.8 415.3 296.9 420 298C424.7 299.1 430.7 299.4 435.5 300.7C440.3 302 450.8 305.8 455.8 307.7C460.8 309.6 468.3 313.1 472.9 315.2C477.5 317.3 485.5 320.8 490 323.3C494.5 325.8 503.1 331.5 507 334.2C510.9 336.9 517 340.7 519.5 343.5C522 346.3 524.5 351.7 525.5 355C526.5 358.3 526.1 364.7 526.8 368C527.5 371.3 527.7 376.1 531 379.7C534.3 383.3 545.8 391.8 551.7 395.2C557.6 398.6 567.9 401.9 575 405C582.1 408.1 598.7 415.5 605 418.8C611.3 422.1 618 426.8 622 430C626 433.2 629.9 437.5 635 442.5C640.1 447.5 653.7 460.8 660 467.5C666.3 474.2 677.3 486.2 682.5 492.5C687.7 498.8 696.5 511.9 698.8 515C701.1 518.1 699.2 514 700 516C700.8 518 704.6 525.1 705 530C705.4 534.9 704.3 547.4 703 552.5C701.7 557.6 697.4 564.3 695 568C692.6 571.7 688.3 576.7 685 580C681.7 583.3 674 590 670 593C666 596 659.5 600.1 655 602.5C650.5 604.9 641 609 636 611C631 613 622.3 616.6 617.5 617.5C612.7 618.4 604.3 618.2 600 618C595.7 617.8 589.5 616.8 585 616C580.5 615.2 571.7 613.1 566 612C560.3 610.9 548.6 610.1 542.5 607.5C536.4 604.9 526 596.3 520 592.5C514 588.7 501.1 583.1 497.5 578.8C493.9 574.5 493.7 564.2 493 560C492.3 555.8 492.5 552.3 492 547C491.5 541.7 488.4 526.5 489 520C489.6 513.5 496.7 503.6 496.4 498.5C496.1 493.4 488.9 486.4 487 482C485.1 477.6 483.2 469.8 482.2 465.5C481.2 461.2 480.3 454.7 479.5 450C478.7 445.3 477.3 435.5 476.5 430C475.7 424.5 474.1 413.7 473.6 408.5C473.1 403.3 475.8 393.1 472.9 391C470 388.9 456.4 392.7 452 393C447.6 393.3 443.3 392.9 439.7 393.2C436.1 393.5 429.3 394.1 425.2 395.2C421.1 396.3 411.7 398.5 408.7 401.5C405.7 404.5 403.3 414.9 402.4 418C401.5 421.1 401.8 422.3 402 425C402.2 427.7 403.3 434.7 404 438C404.7 441.3 405.5 446.5 407 450C408.5 453.5 412.9 460.5 415 464C417.1 467.5 423.9 473.1 423 476C422.1 478.9 412.1 483.5 408 486C403.9 488.5 395.1 491.5 392 495C388.9 498.5 387.4 509.5 385 512.5C382.6 515.5 377 516.5 374 517.5C371 518.5 366.4 519.5 362.5 520C358.6 520.5 350 521.3 345 521.5C340 521.7 330.3 522 325 521.3C319.7 520.6 310 518 305 516.5C300 515 291.9 511.9 287.5 510C283.1 508.1 275.7 504.3 272 502C268.3 499.7 262.7 495.2 260 492.5C257.3 489.8 253.7 484.9 252 482C250.3 479.1 246.2 472.9 247.5 471C248.8 469.1 258.3 468.6 262 467.5C265.7 466.4 272.2 464.3 275 462.5C277.8 460.7 281.3 456.3 283 454C284.7 451.7 286.4 447.7 287.5 445C288.6 442.3 290.2 436.8 291 434C291.8 431.2 291.9 426 293.8 423.8C295.7 421.6 303.6 419.7 305 417.5C306.4 415.3 304.8 409.7 304.5 407C304.2 404.3 303 400 302.5 397.5C302 395 301.7 390.3 301 388C300.3 385.7 299.4 381.9 297.5 380C295.6 378.1 290 375 287 374C284 373 278.3 372.1 275 372.5C271.7 372.9 265.3 376 262 377C258.7 378 253.9 379.5 250 380C246.1 380.5 237.3 380.8 233 380.5C228.7 380.2 221 378.8 217.5 377.5C214 376.2 209.3 373 207 371C204.7 369 201.5 365 200 362.5C198.5 360 196.7 354.7 196 352C195.3 349.3 194.6 345.1 195 342Z" fill="#fc9f3c" stroke="#ee7a14" stroke-width="1"/>
<path d="M497.4 424.8C498.2 422.9 499.5 420.2 501.1 418.6C502.6 417.1 504.6 415.7 506.7 415.5C508.8 415.3 511.9 418 513.5 417.4C515.2 416.7 515.1 413.1 516.6 411.8C518.2 410.4 519.8 410.2 522.9 409.3C526 408.3 531.2 407 535.3 406.2C539.4 405.3 544.5 403.8 547.7 404.3C550.9 404.8 552.8 409.1 554.6 409.3C556.4 409.5 555.6 405.3 558.6 405.5C561.6 405.8 568.5 409 572.6 410.5C576.8 412.1 579.9 413.3 583.5 414.9C587.1 416.4 590.9 417.9 594.4 419.9C597.9 421.8 601.1 424.3 604.3 426.7C607.5 429.1 611.1 431.4 613.7 434.2C616.2 437 617.9 440.5 619.9 443.5C621.8 446.5 623.5 449.8 625.5 452.2C627.4 454.6 629.5 456.1 631.7 457.8C633.9 459.4 636.5 459.9 638.5 462.1C640.6 464.4 642.6 468.4 644.1 471.5C645.7 474.6 646.7 477.7 647.9 480.8C649 483.9 650 487 651 490.1C651.9 493.2 652.7 496.1 653.5 499.5C654.2 502.8 655.1 506.5 655.6 510C656.2 513.5 656.6 517.5 656.6 520.6C656.5 523.7 655.9 526.1 655.3 528.7C654.7 531.3 653.6 533.6 652.8 536.1C652.1 538.7 651.8 541.6 651 544.2C650.1 546.8 649 549.3 647.9 551.7C646.7 554.1 645.5 556.5 644.1 558.5C642.7 560.6 641.2 562.5 639.5 564.1C637.7 565.8 635.6 567.3 633.6 568.5C631.5 569.6 629.1 571 627 571C625 571 622.9 569 621.1 568.5C619.3 568 617.5 567.2 616.1 567.9C614.8 568.5 614 570.8 613 572.2C612.1 573.7 611.6 574.7 610.5 576.6C609.5 578.4 608.4 581.3 606.8 583.4C605.3 585.5 603.2 587.8 601.2 589C599.2 590.2 597.1 590.8 595 590.9C592.9 591 590.6 590.6 588.8 589.6C586.9 588.7 585.2 586.8 583.8 585.3C582.4 583.7 582.4 581.5 580.4 580.3C578.4 579.1 574.8 578.4 572 577.8C569.1 577.2 567.8 577.2 563.3 576.6C558.7 575.9 550.8 574.9 544.6 574.1C538.4 573.3 530.1 572.8 526 571.9C521.8 571 521.3 569.8 519.8 568.5C518.2 567.2 516.6 565.8 516.6 564.1C516.6 562.5 519 560.3 519.8 558.5C520.5 556.7 521.5 555.2 521.3 553.2C521.1 551.3 519.8 548.5 518.5 546.7C517.2 544.9 515.5 542.5 513.5 542.4C511.6 542.3 508.8 544.5 506.7 546.1C504.6 547.6 502.5 549.6 501.1 551.7C499.6 553.8 498.8 556.5 498 558.5C497.2 560.6 497.2 564.1 496.4 564.1C495.7 564.1 494.2 560.6 493.6 558.5C493.1 556.5 493.6 554.2 493.3 551.7C493 549.2 492.4 546.8 491.8 543.6C491.1 540.4 489.9 536.2 489.3 532.4C488.7 528.6 488 524.4 488 520.6C488 516.8 487.9 513.4 489.3 509.7C490.7 506 495.5 501.6 496.4 498.5C497.4 495.4 495.7 494.2 494.9 491.1C494 487.9 492.1 484.1 491.5 479.9C490.8 475.6 490.4 470.5 490.7 465.6C491 460.6 492.1 454.8 493 450C494 445.2 495.9 440.2 496.4 437C496.9 433.7 496 432.4 496.1 430.4C496.3 428.4 496.5 426.8 497.4 424.8Z" fill="#f0f0f0" stroke="#f47d12" stroke-width="1.3"/>
<path d="M227.3 342.3C227.9 339.6 228.5 334.5 232 330.6C235.5 326.7 241.7 322.5 248.3 319C254.9 315.5 262.7 312 271.6 309.6C280.5 307.3 292.2 305.8 301.9 305C311.6 304.1 321.3 304.1 329.9 304.5C338.4 304.9 351.7 305.7 353.2 307.3C354.8 308.9 343.5 311.6 339.2 314.3C334.9 317 330.7 320.1 327.6 323.6C324.5 327.1 321.9 331.4 320.6 335.3C319.2 339.2 321 344.2 319.4 346.9C317.8 349.7 314.9 351.2 311.2 351.6C307.5 352 301.9 349.9 297.3 349.3C292.6 348.7 288.3 347.9 283.3 348.1C278.2 348.3 272 349.1 266.9 350.4C261.9 351.8 258 355.7 253 356.3C247.9 356.9 240.7 355.5 236.6 353.9C232.6 352.4 230 348.9 228.5 346.9C226.9 345 226.7 345 227.3 342.3Z" fill="none" stroke="#ec7710" stroke-width="1.5"/>
<path d="M353.2 307.3C359 308.7 376.5 313.3 388.2 315.5C399.8 317.6 413.4 318 423.2 320.1C432.9 322.3 438.7 325 446.5 328.3C454.2 331.6 462.8 336.1 469.8 339.9C476.8 343.8 482.6 347.7 488.4 351.6C494.3 355.5 499.3 360.5 504.8 363.3C510.2 366 517.4 366.8 521.1 367.9C524.8 369.1 525.9 369.9 526.9 370.3" fill="none" stroke="#ec7710" stroke-width="1.5"/>
<path d="M320.6 337.6C322.1 335.7 325.2 329.3 329.9 326C334.6 322.7 340.8 319.5 348.5 317.8C356.3 316 368 315.7 376.5 315.5C385.1 315.3 392.1 315.5 399.8 316.6C407.6 317.8 415.8 319.9 423.2 322.5C430.5 325 438.3 328.1 444.1 331.8C450 335.5 454.2 340.1 458.1 344.6C462 349.1 464.3 354.3 467.5 358.6C470.6 362.9 472.9 367.1 476.8 370.3C480.7 373.4 486.1 375.7 490.8 377.3C495.4 378.8 499.7 380 504.8 379.6C509.8 379.2 517.1 376.9 521.1 374.9C525 373 527.3 369.1 528.5 367.9" fill="none" stroke="#ec7710" stroke-width="1.5"/>
<path d="M301.9 363.3C302.7 366 305 373.4 306.6 379.6C308.1 385.8 309.7 394 311.2 400.6C312.8 407.2 313.6 413.8 315.9 419.2C318.2 424.7 321.3 429.3 325.2 433.2C329.1 437.1 333.8 440.6 339.2 442.5C344.7 444.5 351.7 446.4 357.9 444.9C364.1 443.3 370.7 437.5 376.5 433.2C382.4 428.9 389 423.1 392.8 419.2C396.7 415.3 398.7 411.4 399.8 409.9" fill="none" stroke="#ec7710" stroke-width="1.5"/>
<path d="M299.6 407.6C298.4 409.5 293.8 414.9 292.6 419.2C291.4 423.5 291.4 430.1 292.6 433.2C293.8 436.3 297.6 438.3 299.6 437.9C301.5 437.5 303.1 433.6 304.2 430.9C305.4 428.2 304.6 421.2 306.6 421.6C308.5 421.9 313.6 428.9 315.9 433.2C318.2 437.5 321.3 443.3 320.6 447.2C319.8 451.1 313.6 453 311.2 456.5C308.9 460 305.8 465.1 306.6 468.2C307.4 471.3 312.4 474.4 315.9 475.2C319.4 476 324.8 474.8 327.6 472.8C330.3 470.9 332.2 467 332.2 463.5C332.2 460 327.2 455 327.6 451.9C327.9 448.8 333.4 446 334.6 444.9" fill="none" stroke="#ec7710" stroke-width="1.5"/>
<path d="M443 386.6C443 384.4 444.3 380.4 446.5 379.6C448.6 378.8 453.1 383.1 455.8 381.9C458.5 380.7 460.5 374.3 462.8 372.6C465.1 370.8 467.6 370.8 469.8 371.4C471.9 372 475 374.3 475.6 376.1C476.2 377.8 472.7 380.6 473.3 381.9C473.9 383.3 478.3 383.1 479.1 384.2C479.9 385.4 479.5 387.9 477.9 388.9C476.4 389.9 471.3 389.3 469.8 390.1C468.2 390.9 470.2 392.8 468.6 393.6C467.1 394.3 462.2 395.3 460.5 394.7C458.7 394.2 459.7 390.3 458.1 390.1C456.6 389.9 453.1 393.2 451.1 393.6C449.2 394 447.8 393.6 446.5 392.4C445.1 391.2 443 388.7 443 386.6Z" fill="#f0f0f0" stroke="#ee7a14" stroke-width="1"/>
<path d="M327.6 351.6C327.2 348.3 328 343.4 329.9 340C331.8 336.6 334.5 333.3 339.2 331.1C343.9 328.9 351.7 327.7 357.9 326.7C364.1 325.7 370.3 325.2 376.5 325C382.7 324.8 389.4 325.1 395.2 325.5C401 325.9 406.4 326.2 411.5 327.4C416.6 328.6 421.8 330.4 425.5 332.5C429.2 334.6 431.7 337.2 433.6 340C435.5 342.8 436.9 346 437.1 349.3C437.3 352.6 436.4 356.7 434.8 359.8C433.2 362.9 431.7 365.8 427.8 367.9C423.9 370 416.9 372.3 411.5 372.6C406.1 372.9 401 370.6 395.2 369.8C389.4 369 382.7 367.8 376.5 367.9C370.3 368 363.3 370.5 357.9 370.3C352.5 370.1 348.2 368.6 343.9 366.8C339.6 365.1 334.9 362.3 332.2 359.8C329.5 357.3 328 354.9 327.6 351.6Z" fill="#f0f0f0" stroke="#ee7a14" stroke-width="1"/>
<ellipse cx="347.5" cy="407.5" rx="23" ry="30.5" transform="rotate(14 347.5 407.5)" fill="#f0f0f0" stroke="#ee7a14" stroke-width="1.2"/>
<path d="M305 417.5C303.7 418.2 295.4 421.9 293.8 423.8C292.2 425.7 291.7 431.5 291 434C290.3 436.5 288.4 442.7 287.5 445C286.6 447.3 284.5 452 283 454C281.5 456 277.4 460.9 275 462.5C272.6 464.1 265.2 466.6 262 467.5C258.8 468.4 251.2 469.5 247.5 470C243.8 470.5 234.1 471.7 230 472C225.9 472.3 217.2 472.4 212.5 472.5C207.8 472.6 195 473 190 473C185 473 174.4 473.1 170 472.5C165.6 471.9 155.8 469.2 152 468C148.2 466.8 140.7 464.5 137.5 462.5C134.3 460.5 127.6 453.6 125 451C122.4 448.4 117.1 442.4 115 440C112.9 437.6 108.8 432 107 430C105.2 428 102 424.5 100 422.5C98 420.5 92 415 90 413C88 411 84.2 407.4 82.5 405C80.8 402.6 76.5 394.9 75 392C73.5 389.1 71 383.1 70 380C69 376.9 66.6 368.5 66 365C65.4 361.5 64.9 353.6 65 350C65.1 346.4 66.3 337.5 67 334C67.7 330.5 69.5 322.8 71 320C72.5 317.2 79 312.6 80 310C81 307.4 80 300.6 80 298C80 295.4 79.3 291 80 287.5C80.7 284 84.1 273.2 86 268C87.9 262.8 93.4 248.8 96 243C98.6 237.2 105.2 222.7 108 218C110.8 213.3 117.4 205.8 120 202.5C122.6 199.2 126.7 192.5 130 190C133.3 187.5 143.6 182.8 148 181C152.4 179.2 163.2 176.9 167.5 175C171.8 173.1 181.2 168 185 165C188.8 162 196.5 151.8 200 149C203.5 146.2 211.3 142.4 215 141C218.7 139.6 227.3 137.3 232 137C236.7 136.7 250 138 255 138C260 138 270.9 137.9 275 137C279.1 136.1 286.5 131.5 290 130C293.5 128.5 301.3 125.3 305 124C308.7 122.7 317.9 119.9 322 119C326.1 118.1 335.8 116.6 340 116.5C344.2 116.4 353.9 117.7 358 118C362.1 118.3 371 119.6 375 119C379 118.4 387.6 114.2 392 113C396.4 111.8 408.1 108.9 412.5 109C416.9 109.1 425.9 112.7 430 114C434.1 115.3 443.8 119.7 447.5 120C451.2 120.3 458.5 117.6 462 117C465.5 116.4 473.4 115.3 477.5 115C481.6 114.7 492.6 114.1 497 114C501.4 113.9 511.4 114 515 114.5C518.6 115 525.1 116.9 528 118C530.9 119.1 536.9 122 540 124C543.1 126 551.6 132.4 555 135C558.4 137.6 565.9 145.3 568.8 146.3C571.7 147.3 577.5 143.9 580 143.5C582.5 143.1 587.3 142.4 590 142.5C592.7 142.6 600.1 143.4 603 144C605.9 144.6 612.4 146.3 615 147.5C617.6 148.7 623 152.2 625 154C627 155.8 631 160.3 632.5 162.5C634 164.7 637 170.5 638 173C639 175.5 639.5 182.2 641.3 183.8C643 185.4 650.2 185.8 653 186.5C655.8 187.2 662.3 188.9 665 190C667.7 191.1 673.7 194 676 195.5C678.3 197 683 200.5 685 202.5C687 204.5 691.2 210.4 693 213C694.8 215.6 698.7 222.4 700 225C701.3 227.6 703.1 232.7 704 235C704.9 237.3 706 243.5 707.5 245C709 246.5 714.7 247.3 717 248C719.3 248.7 725 250.4 727.5 251.3C730 252.2 735.7 254.3 738 255.5C740.3 256.7 745.5 259.6 747.5 261.3C749.5 263 753.5 267.8 755 270C756.5 272.2 759.2 277.6 760 280C760.8 282.4 761.4 288.4 762 291C762.6 293.6 763.4 300.1 765 302.5C766.6 304.9 773.4 309.7 776 312C778.6 314.3 785.3 319.8 787.5 322.5C789.7 325.2 793.7 332.1 795 335C796.3 337.9 798.4 344.5 798.8 347.5C799.1 350.5 798.4 357.8 798 361C797.6 364.2 795.2 371.9 795 375C794.8 378.1 795.7 385.1 796 388C796.3 390.9 797.9 396.9 797.5 400C797.1 403.1 794.1 411.5 793 415C791.9 418.5 788.5 427 788 430C787.5 433 788.8 438.7 789 441C789.2 443.3 790.4 447.3 790 450C789.6 452.7 787.2 460.8 786 464C784.8 467.2 782.1 474.7 780 477.5C777.9 480.3 770.9 485.8 768 488C765.1 490.2 756.5 495.3 755 496.3" fill="none" stroke="#0a0a0a" stroke-width="2.1" stroke-linejoin="round"/>
<path d="M526.8 368C527.4 369.6 527.7 376.1 531 379.7C534.3 383.3 545.8 391.8 551.7 395.2C557.6 398.6 567.9 401.9 575 405C582.1 408.1 598.7 415.5 605 418.8C611.3 422.1 618 426.8 622 430C626 433.2 629.9 437.5 635 442.5C640.1 447.5 653.7 460.8 660 467.5C666.3 474.2 677.3 486.2 682.5 492.5C687.7 498.8 696.5 511.9 698.8 515C701.1 518.1 699.2 514 700 516C700.8 518 704.6 525.1 705 530C705.4 534.9 704.3 547.4 703 552.5C701.7 557.6 697.4 564.3 695 568C692.6 571.7 688.3 576.7 685 580C681.7 583.3 674 590 670 593C666 596 659.5 600.1 655 602.5C650.5 604.9 641 609 636 611C631 613 622.3 616.6 617.5 617.5C612.7 618.4 604.3 618.2 600 618C595.7 617.8 587 616.3 585 616" fill="none" stroke="#0a0a0a" stroke-width="2.1"/>
<path d="M566 612C562.9 611.4 548.6 610.1 542.5 607.5C536.4 604.9 526 596.3 520 592.5C514 588.7 500.5 580.6 497.5 578.8" fill="none" stroke="#0a0a0a" stroke-width="2.1"/>
<path d="M247.5 470C248.1 471.6 250.3 479 252 482C253.7 485 257.3 489.8 260 492.5C262.7 495.2 268.3 499.7 272 502C275.7 504.3 283.1 508.1 287.5 510C291.9 511.9 300 515 305 516.5C310 518 319.7 520.6 325 521.3C330.3 522 340 521.7 345 521.5C350 521.3 358.6 520.5 362.5 520C366.4 519.5 371 518.5 374 517.5C377 516.5 382.6 515.5 385 512.5C387.4 509.5 391.1 497.3 392 495" fill="none" stroke="#0a0a0a" stroke-width="2.1"/>
<path d="M408.7 401.5C408 403.4 403.2 415.3 402.4 418C401.6 420.7 401.8 422.7 402 425C402.2 427.3 403.4 435.1 404 438C404.6 440.9 405.7 447 407 450C408.3 453 413.1 461 415 464C416.9 467 423.8 473.4 423 476C422.2 478.6 411.6 483.8 408 486C404.4 488.2 394.3 492.6 392 495C389.7 497.4 389 504.1 388.5 507C388 509.9 387.3 516.6 387.5 520C387.7 523.4 389.1 532.5 390 536C390.9 539.5 393.8 547.2 395 550C396.2 552.8 398.5 558 400 560C401.5 562 405.1 565.9 407.5 567.5C409.9 569.1 417.8 572.5 421 574C424.2 575.5 432.6 578 435 580C437.4 582 440.5 588.4 442 591C443.5 593.6 446 600 447.5 602.5C449 605 453.4 608.7 455 612.5C456.6 616.3 459.5 629.7 461 635C462.5 640.3 466.7 655.3 467.5 658" fill="none" stroke="#0a0a0a" stroke-width="2.1"/>
<path d="M467.5 658L503.8 657" fill="none" stroke="#0a0a0a" stroke-width="2.1"/>
<path d="M503.8 657C503.6 653.4 502.5 636.9 502 630C501.5 623.1 500.7 612.3 500 605C499.3 597.7 497.5 582.7 496.5 575C495.5 567.3 493.3 552 492.5 547.5C491.7 543 490.8 541.9 490.5 541" fill="none" stroke="#0a0a0a" stroke-width="2.1"/>
<g>
<path d="M609.8 434L609.2 435.5L608.4 437.4L607.4 439.6L606.2 441.9L605 444.3L603.7 446.7L602.6 448.9L601.5 450.8L600.3 452.4L599.1 454L597.8 455.6L596.6 457.1L595.4 458.5L594.1 459.9L592.6 461.3L591.2 462.7L589.7 464.4L587.8 466.3L585.7 468.3L583.6 470.2L581.5 472.1L579.6 473.8L578.1 475.3L577 476.6L577.5 477.5L579.2 477.3L581.3 476.9L583.8 476.2L586.5 475.5L589.4 474.6L592.2 473.6L595 472.6L597.6 471.6L599.7 470.2L601.6 468.9L603.5 467.5L605.3 466.1L607 464.6L608.8 463.1L610.4 461.5L612.2 459.8L614.1 458L616.2 455.9L618.2 453.8L620.2 451.6L622 449.6L623.7 447.8L625.1 446.4L626.2 445.5Z" fill="#fc9f3c"/>
<path d="M597 463.4L596.2 463.2L595.3 463L594 462.6L592.6 462.2L591.2 461.8L589.7 461.4L588.2 461.2L586.8 461.1L585.4 461.2L584.1 461.6L582.9 462L581.8 462.4L580.8 462.9L579.9 463.4L579.2 463.8L578.7 464.1L579 465.1L579.6 465.1L580.4 465.1L581.4 465L582.5 464.9L583.5 464.8L584.6 464.8L585.6 464.9L586.4 465.1L587.3 465.3L588.4 465.8L589.6 466.3L590.9 466.9L592.1 467.5L593.2 468.1L594.2 468.6L594.9 469Z" fill="#f47d12"/>
<path d="M590.5 467.4L590 468.2L589.3 469.3L588.4 470.6L587.4 472L586.3 473.4L585.3 474.8L584.3 476.2L583.5 477.3L582.8 478.4L582.2 479.5L581.5 480.5L580.8 481.5L580.3 482.4L579.8 483.2L579.4 483.9L579.1 484.5L579.8 485.2L580.4 484.8L581.1 484.4L581.8 483.8L582.7 483.2L583.6 482.4L584.6 481.6L585.6 480.8L586.6 479.9L587.6 478.9L588.7 477.7L590 476.5L591.2 475.2L592.4 473.9L593.5 472.8L594.4 471.9L595.1 471.2Z" fill="#f47d12"/>
<path d="M599.2 459.5L599.2 460.4L599.1 461.6L599.1 463L599 464.6L598.9 466.2L598.8 467.8L598.7 469.2L598.6 470.5L598.6 471.7L598.6 472.9L598.5 474L598.5 475.2L598.5 476.2L598.5 477.1L598.5 477.9L598.6 478.5L599.5 478.7L599.8 478.2L600.2 477.5L600.6 476.6L600.9 475.7L601.4 474.6L601.8 473.5L602.2 472.3L602.6 471.2L602.9 469.9L603.2 468.4L603.6 466.8L603.9 465.3L604.3 463.7L604.6 462.4L604.9 461.2L605.1 460.4Z" fill="#f47d12"/>
<path d="M615.7 555.2L614.6 554.6L613.3 553.8L611.8 552.8L610.2 551.7L608.5 550.4L606.7 549.1L605 547.7L603.2 546.3L601.3 544.6L599.1 542.6L596.8 540.4L594.5 538.1L592.2 535.9L590.2 533.9L588.4 532.3L587 531.2L586.2 531.8L587 533.4L588.2 535.5L589.7 537.9L591.4 540.6L593.1 543.4L594.9 546.1L596.5 548.7L598 550.9L599.4 552.9L600.8 554.9L602.3 556.7L603.6 558.5L604.8 560.1L605.9 561.6L606.7 562.8L607.3 563.8Z" fill="#f47d12"/>
<path d="M599.1 547.8L607 542.2L606.6 541.3L597.1 543.2Z" fill="#f47d12"/>
<path d="M593.1 540.2L589.4 545.1L590 545.9L595.6 543.3Z" fill="#f47d12"/>
<path d="M513.3 411.5L519.3 421.2L520.2 421L520 409.5Z" fill="#f47d12"/>
<path d="M552.1 408L558.1 419.7L559.1 419.4L558.9 406.3Z" fill="#f47d12"/>
<path d="M563 410.2L570.6 427.4L571.5 427.2L569.8 408.4Z" fill="#f47d12"/>
<path d="M590.9 419.9L593.9 430.4L594.9 430.4L597.9 419.9Z" fill="#f47d12"/>
<path d="M498.8 439.3L511.7 446.3L512.3 445.6L503.4 434Z" fill="#f47d12"/>
<path d="M501.5 444.2L507 437.1L506.4 436.2L497.6 438.4Z" fill="#f47d12"/>
<path d="M632.8 457.7L628.2 467.4L629 468.1L638.1 462.3Z" fill="#f47d12"/>
<path d="M652.3 489.1L636.4 490.6L636.3 491.6L651.6 496.1Z" fill="#f47d12"/>
<path d="M645.6 494.2L643.7 505.5L644.6 505.9L652 497.2Z" fill="#f47d12"/>
<path d="M654.5 528L633.2 534.1L633.3 535.1L655.5 534.9Z" fill="#f47d12"/>
<path d="M647.4 534.8L640.9 526.6L639.9 527L640.9 537.4Z" fill="#f47d12"/>
<path d="M519.2 550.5L511.7 560L512.3 560.8L523.4 556Z" fill="#f47d12"/>
<path d="M510.3 541.1L509.3 551.5L510.3 551.9L516.8 543.7Z" fill="#f47d12"/>
<path d="M498.6 578.1L496.1 567.2L498.6 554.8L506.7 544.9L514.2 538.6L511 547L519.1 550.1L509.8 556.4L516.6 562.9L507.9 566L512 576.6L522.9 589L510.4 589Z" fill="#fc9f3c"/>
<path d="M488.7 497.3C491.8 498.8 501.5 503.7 507.3 506.6C513.1 509.5 520.8 513.3 523.5 514.7" fill="none" stroke="#f47d12" stroke-width="1.4" stroke-linecap="round" stroke-linejoin="round"/>
<path d="M523.5 514.7C520.4 515.9 509.7 519.1 504.8 522.2C500 525.2 496.4 528.1 494.3 533C492.1 538 491.6 544.4 491.8 551.7C492 558.9 494.9 572.4 495.5 576.6" fill="none" stroke="#f47d12" stroke-width="1.4" stroke-linecap="round" stroke-linejoin="round"/>
</g>
<path d="M423 401.5C425.5 405.4 433.2 417.4 438 425C442.8 432.6 447.8 439.5 452 447C456.2 454.5 459.5 462.3 463 470C466.5 477.7 470.3 484.7 473 493C475.7 501.3 477.5 508.8 479 520C480.5 531.2 481.2 545 482 560C482.8 575 483.2 593.8 483.5 610C483.8 626.2 483.9 649.2 484 657" fill="none" stroke="#f47d12" stroke-width="1.5" stroke-linecap="round" stroke-linejoin="round"/>
<path d="M442 393C443.7 397.2 448.6 409.7 452 418C455.4 426.3 459 434.3 462.5 443C466 451.7 469.6 461.3 473 470C476.4 478.7 480.5 486.7 483 495C485.5 503.3 486.8 509.2 488 520C489.2 530.8 489.8 545 490.5 560C491.2 575 491.7 593.8 492 610C492.3 626.2 492.4 649.2 492.5 657" fill="none" stroke="#f47d12" stroke-width="1.5" stroke-linecap="round" stroke-linejoin="round"/>
<path d="M361 231C358.3 228.8 351 221.8 345 217.5C339 213.2 331.5 208.8 325 205C318.5 201.2 312.2 197.9 306 195C299.8 192.1 293.8 189.5 287.5 187.5C281.2 185.5 274.2 184 268 183C261.8 182 256.2 181.5 250 181.3C243.8 181.1 237.2 181.4 231 182C224.8 182.6 218.2 183.5 212.5 185C206.8 186.5 202 188.5 197 191C192 193.5 187.7 196.2 182.5 200C177.3 203.8 171.4 209 166 214C160.6 219 154.8 224.8 150 230C145.2 235.2 141.2 240 137 245C132.8 250 128.7 254.7 125 260C121.3 265.3 117.9 271.5 115 277C112.1 282.5 110.3 287.5 107.5 293C104.7 298.5 100.2 304.7 98 310C95.8 315.3 94.6 320 94 325C93.4 330 93.8 335.3 94.5 340C95.2 344.7 96.4 348.8 98 353C99.6 357.2 101.6 361.3 104 365C106.4 368.7 109 371.2 112.5 375C116 378.8 120.4 383.8 125 388C129.6 392.2 134.7 396.2 140 400C145.3 403.8 151.2 407.7 157 411C162.8 414.3 169.2 417.5 175 420C180.8 422.5 186.2 424.4 192 426C197.8 427.6 207 428.9 210 429.5" fill="none" stroke="#000" stroke-width="8.2" stroke-linecap="butt" stroke-linejoin="round"/>
<path d="M208.8 416.5L229.5 431.5L203.5 437L211.5 428Z" fill="#000"/>
<path d="M380.5 325C379.8 321.2 377.5 309.5 376 302C374.5 294.5 373.2 287.8 371.5 280C369.8 272.2 367.5 263 366 255C364.5 247 363.3 239.5 362.5 232C361.7 224.5 361.5 217.3 361.3 210C361.1 202.7 361.3 191.7 361.3 188" fill="none" stroke="#000" stroke-width="7.6" stroke-linecap="butt" stroke-linejoin="round"/>
<path d="M361.3 170.5L372 194.5L361.3 190.5L350 194.5Z" fill="#000"/>
<path d="M474 597C473.4 593 471.8 581.5 470.5 573C469.2 564.5 467.7 554.8 466 546C464.3 537.2 462.2 527.8 460.5 520C458.8 512.2 457.2 505.7 455.5 499C453.8 492.3 451.9 486.3 450 480C448.1 473.7 446 466.8 444 461C442 455.2 440.1 450.5 438 445C435.9 439.5 433.7 433.5 431.5 428C429.3 422.5 427.7 417.3 425 412C422.3 406.7 417.1 398.7 415.5 396" fill="none" stroke="#000" stroke-width="8.2" stroke-linecap="butt" stroke-linejoin="round"/>
<path d="M404.3 378.3L425.5 395L417 399.5L409.3 404.5Z" fill="#000"/>
<ellipse cx="475" cy="605.6" rx="19" ry="11.2" fill="#000"/>
<path d="M385 598.3L434 602.6L432.5 595.3L450.5 605.7L432.5 616.4L434 608.9L385 614.2Z" fill="#000"/>
<defs><radialGradient id="pg" gradientUnits="userSpaceOnUse" cx="93" cy="238" r="72"><stop offset="0" stop-color="#ffff14"/><stop offset="0.3" stop-color="#ffe60a"/><stop offset="0.62" stop-color="#f7a50e"/><stop offset="1" stop-color="#e2700c"/></radialGradient></defs>
<path d="M71.1 162.2L89.8 206.5L106.1 180.8L109.6 207.6L123.6 203L120.1 220.5L158.6 222.8L128.3 241.5L162.1 260.1L123.6 257.8L136.4 285.8L106.1 267.1L103.8 306.8L89.8 269.4L80.5 285.8L75.8 266L32.7 296.3L64.1 254.3L35 254.3L54.8 239.1L19.8 222.8L64.1 224L50.1 199.5L75.8 213.5Z" fill="url(#pg)" stroke="#1a1200" stroke-width="1.6" stroke-linejoin="miter"/>
<text x="68.8" y="246" class="b" font-size="19.6" fill="#111" textLength="46.7" lengthAdjust="spacingAndGlyphs">PAIN</text>
<text x="317" y="160.8" class="b" font-size="21" fill="#111" textLength="88" lengthAdjust="spacingAndGlyphs">CORTEX</text>
<text x="327.5" y="360" class="b" font-size="21" fill="#111" stroke="#f6f6f6" stroke-width="5" stroke-linejoin="round" paint-order="stroke" textLength="118.8" lengthAdjust="spacingAndGlyphs">THALAMUS</text>
<path d="M596 565.5C602 563.2 620 557 632 552C644 547 656.3 540.8 668 535.5C679.7 530.2 687.5 526.1 702 520.5C716.5 514.9 738.4 507.5 755 502C771.6 496.5 786.5 491.8 801.5 487.5C816.5 483.2 831.2 479 845 476C858.8 473 871.5 470.7 884 469.5C896.5 468.3 909 468.4 920 469C931 469.6 940 471.2 950 473C960 474.8 969 477.2 980 480C991 482.8 1010 488.3 1016 490" fill="none" stroke="#47288f" stroke-width="11.6" stroke-linecap="butt" stroke-linejoin="round"/>
<path d="M837.5 436L850.5 470" fill="none" stroke="#47288f" stroke-width="11.6" stroke-linecap="butt" stroke-linejoin="round"/>
<path d="M960.5 236C959.7 240.3 956.8 253 955.5 262C954.2 271 953.5 280.3 953 290C952.5 299.7 952 308.7 952.3 320C952.6 331.3 953 345 955 358C957 371 960.2 385.2 964.5 398C968.8 410.8 975.1 424 981 435C986.9 446 993.8 455.5 1000 464C1006.2 472.5 1015 482.3 1018 486" fill="none" stroke="#47288f" stroke-width="11.6" stroke-linecap="butt" stroke-linejoin="round"/>
<path d="M1005 123C1007.5 120.2 1014.3 111.5 1020 106C1025.7 100.5 1032.7 94.6 1039 90C1045.3 85.4 1051.3 81.8 1058 78.5C1064.7 75.2 1070.7 72.8 1079 70.5C1087.3 68.2 1099.5 65.5 1108 64.8C1116.5 64 1122.3 65 1130 66C1137.7 67 1150 70.2 1154 71" fill="none" stroke="#47288f" stroke-width="11.6" stroke-linecap="butt" stroke-linejoin="round"/>
<path d="M1268 124C1271.6 127.3 1282.8 136.6 1289.5 143.6C1296.2 150.6 1305.3 162.3 1308.5 166" fill="none" stroke="#47288f" stroke-width="11.6" stroke-linecap="butt" stroke-linejoin="round"/>
<path d="M1136 541.5C1140 541.9 1151.5 543.6 1160 544C1168.5 544.4 1179 544.2 1187 543.8C1195 543.4 1201.6 542.4 1208 541.5C1214.4 540.6 1222.6 539 1225.5 538.5" fill="none" stroke="#47288f" stroke-width="11.6" stroke-linecap="butt" stroke-linejoin="round"/>
<path d="M516 576C516.7 574.7 522.2 571.7 525 570.5C527.8 569.3 532.9 567.9 537 567.3C541.1 566.7 550.7 566.4 556 566.3C561.3 566.2 571.5 567.3 577 566.5C582.5 565.7 593.9 560.2 597 560.5C600.1 560.8 601.4 566.6 600.5 568.5C599.6 570.4 592.7 573.3 590 575C587.3 576.7 582.5 579 580 581C577.5 583 572.9 587.5 571 590C569.1 592.5 566.8 597.1 565.5 600C564.2 602.9 562.3 608.8 561 612C559.7 615.2 557.3 621.5 556 624C554.7 626.5 552.4 629.6 551 630.5C549.6 631.4 546.8 631.6 545.5 631C544.2 630.4 541.7 628 541 626C540.3 624 539.8 618.9 540 616C540.2 613.1 542.2 607.1 542.5 604C542.8 600.9 542.9 595.3 542 593C541.1 590.7 538 587.9 536 586.5C534 585.1 529.1 583.4 527 582.5C524.9 581.6 521.5 580.9 520 580C518.5 579.1 515.3 577.3 516 576Z" fill="#dfd0f3" stroke="#47288f" stroke-width="1.8" stroke-linejoin="round"/>
<path d="M596 565.5C602 563.2 620 557 632 552C644 547 656.3 540.8 668 535.5C679.7 530.2 687.5 526.1 702 520.5C716.5 514.9 738.4 507.5 755 502C771.6 496.5 786.5 491.8 801.5 487.5C816.5 483.2 831.2 479 845 476C858.8 473 871.5 470.7 884 469.5C896.5 468.3 909 468.4 920 469C931 469.6 940 471.2 950 473C960 474.8 969 477.2 980 480C991 482.8 1010 488.3 1016 490" fill="none" stroke="#dfd0f3" stroke-width="8" stroke-linecap="butt" stroke-linejoin="round"/>
<path d="M837.5 436L850.5 470" fill="none" stroke="#dfd0f3" stroke-width="8" stroke-linecap="butt" stroke-linejoin="round"/>
<path d="M960.5 236C959.7 240.3 956.8 253 955.5 262C954.2 271 953.5 280.3 953 290C952.5 299.7 952 308.7 952.3 320C952.6 331.3 953 345 955 358C957 371 960.2 385.2 964.5 398C968.8 410.8 975.1 424 981 435C986.9 446 993.8 455.5 1000 464C1006.2 472.5 1015 482.3 1018 486" fill="none" stroke="#dfd0f3" stroke-width="8" stroke-linecap="butt" stroke-linejoin="round"/>
<path d="M1005 123C1007.5 120.2 1014.3 111.5 1020 106C1025.7 100.5 1032.7 94.6 1039 90C1045.3 85.4 1051.3 81.8 1058 78.5C1064.7 75.2 1070.7 72.8 1079 70.5C1087.3 68.2 1099.5 65.5 1108 64.8C1116.5 64 1122.3 65 1130 66C1137.7 67 1150 70.2 1154 71" fill="none" stroke="#dfd0f3" stroke-width="8" stroke-linecap="butt" stroke-linejoin="round"/>
<path d="M1268 124C1271.6 127.3 1282.8 136.6 1289.5 143.6C1296.2 150.6 1305.3 162.3 1308.5 166" fill="none" stroke="#dfd0f3" stroke-width="8" stroke-linecap="butt" stroke-linejoin="round"/>
<path d="M1136 541.5C1140 541.9 1151.5 543.6 1160 544C1168.5 544.4 1179 544.2 1187 543.8C1195 543.4 1201.6 542.4 1208 541.5C1214.4 540.6 1222.6 539 1225.5 538.5" fill="none" stroke="#dfd0f3" stroke-width="8" stroke-linecap="butt" stroke-linejoin="round"/>
<ellipse cx="835.2" cy="412.5" rx="18.8" ry="24.6" fill="#6a87c9" stroke="#1f3f9c" stroke-width="1.6"/>
<ellipse cx="836.9" cy="411" rx="4" ry="7.4" fill="#050505"/>
<ellipse cx="980.5" cy="179.5" rx="30.5" ry="65" transform="rotate(23.5 980.5 179.5)" fill="#c3c3c3" stroke="#1c1c1c" stroke-width="1.7"/>
<ellipse cx="982" cy="179.5" rx="10.2" ry="26.5" transform="rotate(22 982 179.5)" fill="#ffe20a" stroke="#111" stroke-width="2.2"/>
<path d="M1003.3 127.5L1013 143.8L993.5 143.8Z" fill="#e01414"/>
<circle cx="966.3" cy="192" r="9.6" fill="#0b3b96"/>
<circle cx="989.3" cy="190.8" r="9.6" fill="#0b3b96"/>
<rect x="951.3" y="214.5" width="16.3" height="16.3" fill="#3b9428"/>
<ellipse cx="1213.9" cy="97.5" rx="66" ry="27.5" transform="rotate(19.8 1213.9 97.5)" fill="#c3c3c3" stroke="#1c1c1c" stroke-width="1.7"/>
<ellipse cx="1213.9" cy="98" rx="26.5" ry="10.2" transform="rotate(20.5 1213.9 98)" fill="#ffe20a" stroke="#111" stroke-width="2.2"/>
<path d="M1169 70.6L1178.8 86L1159.2 86Z" fill="#e01414"/>
<circle cx="1196.3" cy="79.4" r="10" fill="#0b3b96"/>
<path d="M1226.2 107.3L1236 123.3L1216.5 123.3Z" fill="#e01414"/>
<rect x="1249" y="106.5" width="16.3" height="16.3" fill="#3b9428"/>
<ellipse cx="1078.7" cy="516.5" rx="66.5" ry="27" transform="rotate(19.8 1078.7 516.5)" fill="#c3c3c3" stroke="#1c1c1c" stroke-width="1.7"/>
<ellipse cx="1079.5" cy="515.5" rx="25" ry="10" transform="rotate(24 1079.5 515.5)" fill="#ffe20a" stroke="#111" stroke-width="2.2"/>
<path d="M1037.5 486L1047.2 502L1027.8 502Z" fill="#e01414"/>
<circle cx="1056.3" cy="516.3" r="9.6" fill="#0b3b96"/>
<path d="M1089.7 522L1099.5 538.3L1080 538.3Z" fill="#e01414"/>
<rect x="1110.6" y="524.8" width="16.3" height="16.3" fill="#3b9428"/>
<circle cx="1040" cy="141.3" r="10" fill="#0b3b96"/>
<path d="M1028.8 165L1038.5 181.8L1019 181.8Z" fill="#e01414"/>
<circle cx="1026.3" cy="199.5" r="10" fill="#0b3b96"/>
<circle cx="1063.8" cy="197" r="10" fill="#0b3b96"/>
<path d="M1007.7 207.5L1017.5 223.8L998 223.8Z" fill="#e01414"/>
<rect x="1033.2" y="215" width="16.3" height="16.3" fill="#3b9428"/>
<rect x="1082.8" y="209.5" width="16.3" height="16.3" fill="#3b9428"/>
<path d="M1064.3 230.5L1074 246.8L1054.5 246.8Z" fill="#e01414"/>
<path d="M1157 109.5L1166.8 125.8L1147.2 125.8Z" fill="#e01414"/>
<rect x="1183.8" y="132.4" width="16.3" height="16.3" fill="#3b9428"/>
<circle cx="1163.2" cy="148" r="10" fill="#0b3b96"/>
<path d="M1237.6 148.8L1247.3 164.6L1227.8 164.6Z" fill="#e01414"/>
<circle cx="1208.8" cy="168.2" r="10" fill="#0b3b96"/>
<path d="M1177 170L1186.8 186.2L1167.2 186.2Z" fill="#e01414"/>
<rect x="1230.2" y="179.5" width="16.3" height="16.3" fill="#3b9428"/>
<circle cx="1214.2" cy="203.8" r="10" fill="#0b3b96"/>
<g>
<ellipse cx="1243.9" cy="326.5" rx="13.2" ry="8.1" transform="rotate(110.8 1243.9 326.5)" fill="#c7c7c7" stroke="#5a5a5a" stroke-width="1.3"/>
<ellipse cx="1239.4" cy="351.3" rx="13.1" ry="7.9" transform="rotate(128.7 1239.4 351.3)" fill="#c7c7c7" stroke="#5a5a5a" stroke-width="1.3"/>
<ellipse cx="1227.9" cy="371.4" rx="15.5" ry="7.4" transform="rotate(146.6 1227.9 371.4)" fill="#c7c7c7" stroke="#5a5a5a" stroke-width="1.3"/>
<ellipse cx="1208.8" cy="388.9" rx="14.7" ry="7.8" transform="rotate(181 1208.8 388.9)" fill="#c7c7c7" stroke="#5a5a5a" stroke-width="1.3"/>
<ellipse cx="1180.6" cy="395" rx="13.9" ry="7.4" transform="rotate(203.5 1180.6 395)" fill="#c7c7c7" stroke="#5a5a5a" stroke-width="1.3"/>
<ellipse cx="1160.5" cy="393.9" rx="13.5" ry="8.1" transform="rotate(219.7 1160.5 393.9)" fill="#c7c7c7" stroke="#5a5a5a" stroke-width="1.3"/>
<ellipse cx="1135.7" cy="381.8" rx="13.2" ry="7.3" transform="rotate(236.8 1135.7 381.8)" fill="#c7c7c7" stroke="#5a5a5a" stroke-width="1.3"/>
<ellipse cx="1119.6" cy="365.5" rx="13.9" ry="8.1" transform="rotate(253.1 1119.6 365.5)" fill="#c7c7c7" stroke="#5a5a5a" stroke-width="1.3"/>
<ellipse cx="1110.8" cy="340.3" rx="15.1" ry="7.6" transform="rotate(284.3 1110.8 340.3)" fill="#c7c7c7" stroke="#5a5a5a" stroke-width="1.3"/>
<ellipse cx="1110.2" cy="314.4" rx="15.2" ry="7.7" transform="rotate(307.9 1110.2 314.4)" fill="#c7c7c7" stroke="#5a5a5a" stroke-width="1.3"/>
<ellipse cx="1121.6" cy="289.6" rx="15.3" ry="7.4" transform="rotate(320 1121.6 289.6)" fill="#c7c7c7" stroke="#5a5a5a" stroke-width="1.3"/>
<ellipse cx="1136.8" cy="273.6" rx="15.3" ry="8.1" transform="rotate(344.9 1136.8 273.6)" fill="#c7c7c7" stroke="#5a5a5a" stroke-width="1.3"/>
<ellipse cx="1160.5" cy="261.1" rx="14.8" ry="8.1" transform="rotate(368.5 1160.5 261.1)" fill="#c7c7c7" stroke="#5a5a5a" stroke-width="1.3"/>
<ellipse cx="1183.1" cy="257.8" rx="14.4" ry="8.3" transform="rotate(393.8 1183.1 257.8)" fill="#c7c7c7" stroke="#5a5a5a" stroke-width="1.3"/>
<ellipse cx="1205.4" cy="264.1" rx="16" ry="8.5" transform="rotate(406 1205.4 264.1)" fill="#c7c7c7" stroke="#5a5a5a" stroke-width="1.3"/>
<ellipse cx="1226.2" cy="280.4" rx="13.1" ry="7.9" transform="rotate(428.7 1226.2 280.4)" fill="#c7c7c7" stroke="#5a5a5a" stroke-width="1.3"/>
<ellipse cx="1238.7" cy="301.3" rx="15.3" ry="7.4" transform="rotate(434.7 1238.7 301.3)" fill="#c7c7c7" stroke="#5a5a5a" stroke-width="1.3"/>
<ellipse cx="1259.7" cy="338.4" rx="13.2" ry="8.3" transform="rotate(124.3 1259.7 338.4)" fill="#c7c7c7" stroke="#5a5a5a" stroke-width="1.3"/>
<ellipse cx="1253.3" cy="365.2" rx="15.6" ry="8" transform="rotate(141.6 1253.3 365.2)" fill="#c7c7c7" stroke="#5a5a5a" stroke-width="1.3"/>
<ellipse cx="1238.5" cy="384.6" rx="15.9" ry="7.8" transform="rotate(159.7 1238.5 384.6)" fill="#c7c7c7" stroke="#5a5a5a" stroke-width="1.3"/>
<ellipse cx="1220.3" cy="399.3" rx="14.5" ry="8.5" transform="rotate(160.1 1220.3 399.3)" fill="#c7c7c7" stroke="#5a5a5a" stroke-width="1.3"/>
<ellipse cx="1196.8" cy="408.6" rx="14.1" ry="8.5" transform="rotate(182.1 1196.8 408.6)" fill="#c7c7c7" stroke="#5a5a5a" stroke-width="1.3"/>
<ellipse cx="1167.7" cy="412.5" rx="14.9" ry="8.7" transform="rotate(204.7 1167.7 412.5)" fill="#c7c7c7" stroke="#5a5a5a" stroke-width="1.3"/>
<ellipse cx="1148.8" cy="408.8" rx="15.6" ry="8.9" transform="rotate(224.1 1148.8 408.8)" fill="#c7c7c7" stroke="#5a5a5a" stroke-width="1.3"/>
<ellipse cx="1125.5" cy="394.2" rx="14.9" ry="7.7" transform="rotate(226.6 1125.5 394.2)" fill="#c7c7c7" stroke="#5a5a5a" stroke-width="1.3"/>
<ellipse cx="1110.2" cy="377.3" rx="14" ry="7.7" transform="rotate(243.6 1110.2 377.3)" fill="#c7c7c7" stroke="#5a5a5a" stroke-width="1.3"/>
<ellipse cx="1099" cy="355.4" rx="14.1" ry="7.6" transform="rotate(259 1099 355.4)" fill="#c7c7c7" stroke="#5a5a5a" stroke-width="1.3"/>
<ellipse cx="1093" cy="324.9" rx="13.8" ry="8.2" transform="rotate(281.3 1093 324.9)" fill="#c7c7c7" stroke="#5a5a5a" stroke-width="1.3"/>
<ellipse cx="1097.8" cy="303.7" rx="16" ry="8.3" transform="rotate(312.9 1097.8 303.7)" fill="#c7c7c7" stroke="#5a5a5a" stroke-width="1.3"/>
<ellipse cx="1108.8" cy="280.4" rx="14" ry="8" transform="rotate(312.7 1108.8 280.4)" fill="#c7c7c7" stroke="#5a5a5a" stroke-width="1.3"/>
<ellipse cx="1127.1" cy="260.5" rx="15.9" ry="8.4" transform="rotate(329.5 1127.1 260.5)" fill="#c7c7c7" stroke="#5a5a5a" stroke-width="1.3"/>
<ellipse cx="1144.2" cy="249.2" rx="14.6" ry="9.2" transform="rotate(343.6 1144.2 249.2)" fill="#c7c7c7" stroke="#5a5a5a" stroke-width="1.3"/>
<ellipse cx="1173.1" cy="242" rx="14.1" ry="7.9" transform="rotate(369.6 1173.1 242)" fill="#c7c7c7" stroke="#5a5a5a" stroke-width="1.3"/>
<ellipse cx="1197.4" cy="245" rx="14" ry="8" transform="rotate(398.8 1197.4 245)" fill="#c7c7c7" stroke="#5a5a5a" stroke-width="1.3"/>
<ellipse cx="1221.4" cy="253.7" rx="15.4" ry="8.9" transform="rotate(417.9 1221.4 253.7)" fill="#c7c7c7" stroke="#5a5a5a" stroke-width="1.3"/>
<ellipse cx="1238.9" cy="271.4" rx="14.1" ry="7.6" transform="rotate(426.7 1238.9 271.4)" fill="#c7c7c7" stroke="#5a5a5a" stroke-width="1.3"/>
<ellipse cx="1250.4" cy="288.1" rx="15.1" ry="9.1" transform="rotate(434.3 1250.4 288.1)" fill="#c7c7c7" stroke="#5a5a5a" stroke-width="1.3"/>
<ellipse cx="1261" cy="314.3" rx="15.9" ry="8.2" transform="rotate(470.9 1261 314.3)" fill="#c7c7c7" stroke="#5a5a5a" stroke-width="1.3"/>
<ellipse cx="1275.1" cy="331.3" rx="12.6" ry="8.6" transform="rotate(102.9 1275.1 331.3)" fill="#c7c7c7" stroke="#5a5a5a" stroke-width="1.3"/>
<ellipse cx="1271.5" cy="360.8" rx="14" ry="8.9" transform="rotate(126.6 1271.5 360.8)" fill="#c7c7c7" stroke="#5a5a5a" stroke-width="1.3"/>
<ellipse cx="1263.8" cy="376.8" rx="14.3" ry="8.8" transform="rotate(147.1 1263.8 376.8)" fill="#c7c7c7" stroke="#5a5a5a" stroke-width="1.3"/>
<ellipse cx="1246.4" cy="397.8" rx="13" ry="8.9" transform="rotate(159.8 1246.4 397.8)" fill="#c7c7c7" stroke="#5a5a5a" stroke-width="1.3"/>
<ellipse cx="1224.8" cy="415.1" rx="14.8" ry="8.8" transform="rotate(166.6 1224.8 415.1)" fill="#c7c7c7" stroke="#5a5a5a" stroke-width="1.3"/>
<ellipse cx="1208.6" cy="421.6" rx="14.7" ry="8.9" transform="rotate(170.8 1208.6 421.6)" fill="#c7c7c7" stroke="#5a5a5a" stroke-width="1.3"/>
<ellipse cx="1185.9" cy="428.6" rx="14" ry="8.2" transform="rotate(204.4 1185.9 428.6)" fill="#c7c7c7" stroke="#5a5a5a" stroke-width="1.3"/>
<ellipse cx="1159" cy="425.2" rx="14.9" ry="8.6" transform="rotate(196.9 1159 425.2)" fill="#c7c7c7" stroke="#5a5a5a" stroke-width="1.3"/>
<ellipse cx="1135.7" cy="420.2" rx="14.6" ry="8.9" transform="rotate(220.8 1135.7 420.2)" fill="#c7c7c7" stroke="#5a5a5a" stroke-width="1.3"/>
<ellipse cx="1118.2" cy="407.4" rx="12.7" ry="8.5" transform="rotate(229.8 1118.2 407.4)" fill="#c7c7c7" stroke="#5a5a5a" stroke-width="1.3"/>
<ellipse cx="1100.4" cy="390.8" rx="14.7" ry="8.2" transform="rotate(240 1100.4 390.8)" fill="#c7c7c7" stroke="#5a5a5a" stroke-width="1.3"/>
<ellipse cx="1086.6" cy="369.2" rx="13.3" ry="9.1" transform="rotate(273.3 1086.6 369.2)" fill="#c7c7c7" stroke="#5a5a5a" stroke-width="1.3"/>
<ellipse cx="1079.5" cy="345.6" rx="12.1" ry="8.3" transform="rotate(278.2 1079.5 345.6)" fill="#c7c7c7" stroke="#5a5a5a" stroke-width="1.3"/>
<ellipse cx="1079.5" cy="324" rx="12.5" ry="8.4" transform="rotate(297.2 1079.5 324)" fill="#c7c7c7" stroke="#5a5a5a" stroke-width="1.3"/>
<ellipse cx="1082.9" cy="295.8" rx="13.6" ry="8.5" transform="rotate(302.2 1082.9 295.8)" fill="#c7c7c7" stroke="#5a5a5a" stroke-width="1.3"/>
<ellipse cx="1094.5" cy="274.2" rx="12.7" ry="8" transform="rotate(321.9 1094.5 274.2)" fill="#c7c7c7" stroke="#5a5a5a" stroke-width="1.3"/>
<ellipse cx="1108.5" cy="254.9" rx="14.3" ry="9.1" transform="rotate(335.7 1108.5 254.9)" fill="#c7c7c7" stroke="#5a5a5a" stroke-width="1.3"/>
<ellipse cx="1125.2" cy="241.4" rx="13.5" ry="8.7" transform="rotate(346.7 1125.2 241.4)" fill="#c7c7c7" stroke="#5a5a5a" stroke-width="1.3"/>
<ellipse cx="1147.2" cy="231.6" rx="14.8" ry="8.7" transform="rotate(359.9 1147.2 231.6)" fill="#c7c7c7" stroke="#5a5a5a" stroke-width="1.3"/>
<ellipse cx="1174" cy="225.7" rx="13.7" ry="9.1" transform="rotate(370.5 1174 225.7)" fill="#c7c7c7" stroke="#5a5a5a" stroke-width="1.3"/>
<ellipse cx="1197.3" cy="230.2" rx="13.3" ry="7.7" transform="rotate(380.9 1197.3 230.2)" fill="#c7c7c7" stroke="#5a5a5a" stroke-width="1.3"/>
<ellipse cx="1215.3" cy="236.2" rx="14.4" ry="9" transform="rotate(405.1 1215.3 236.2)" fill="#c7c7c7" stroke="#5a5a5a" stroke-width="1.3"/>
<ellipse cx="1236.3" cy="246.2" rx="12.4" ry="9" transform="rotate(418.3 1236.3 246.2)" fill="#c7c7c7" stroke="#5a5a5a" stroke-width="1.3"/>
<ellipse cx="1256.5" cy="269" rx="13.2" ry="8.4" transform="rotate(442.9 1256.5 269)" fill="#c7c7c7" stroke="#5a5a5a" stroke-width="1.3"/>
<ellipse cx="1269.7" cy="289.5" rx="13.3" ry="8.4" transform="rotate(437.9 1269.7 289.5)" fill="#c7c7c7" stroke="#5a5a5a" stroke-width="1.3"/>
<ellipse cx="1273.3" cy="308.3" rx="14.2" ry="7.6" transform="rotate(452.5 1273.3 308.3)" fill="#c7c7c7" stroke="#5a5a5a" stroke-width="1.3"/>
</g>
<path d="M1119 300C1120.8 290 1122.8 282 1128 275C1133.2 268 1141.7 261.8 1150 258C1158.3 254.2 1168.7 252 1178 252C1187.3 252 1197.7 254 1206 258C1214.3 262 1222.3 268.2 1228 276C1233.7 283.8 1237.5 294.3 1240 305C1242.5 315.7 1243.3 329.5 1243 340C1242.7 350.5 1241.5 360.5 1238 368C1234.5 375.5 1227.7 380 1222 385C1216.3 390 1211 395 1204 398C1197 401 1187.3 403 1180 403C1172.7 403 1166.7 400.5 1160 398C1153.3 395.5 1146 393.3 1140 388C1134 382.7 1127.8 374.8 1124 366C1120.2 357.2 1117.8 346 1117 335C1116.2 324 1117.2 310 1119 300Z" fill="#c7c7c7" stroke="#5a5a5a" stroke-width="1.3"/>
<path d="M1123 305C1124.3 297.5 1125.8 288.7 1130 283C1134.2 277.3 1141 273.7 1148 271C1155 268.3 1164 267.2 1172 267C1180 266.8 1188.7 267.5 1196 270C1203.3 272.5 1210.7 276.3 1216 282C1221.3 287.7 1225.3 295.7 1228 304C1230.7 312.3 1231.8 324 1232 332C1232.2 340 1231.5 347 1229 352C1226.5 357 1220.7 358 1217 362C1213.3 366 1211.5 372 1207 376C1202.5 380 1195.8 384.2 1190 386C1184.2 387.8 1177.7 388 1172 387C1166.3 386 1161.3 383.2 1156 380C1150.7 376.8 1144.8 373 1140 368C1135.2 363 1130 356.7 1127 350C1124 343.3 1122.7 335.5 1122 328C1121.3 320.5 1121.7 312.5 1123 305Z" fill="#c2c2c2" stroke="#5a5a5a" stroke-width="1.3"/>
<path d="M1119 296L1124 300" stroke="#5a5a5a" stroke-width="1.2"/>
<path d="M1200 262L1199 271" stroke="#5a5a5a" stroke-width="1.2"/>
<path d="M1232 350L1241 356" stroke="#5a5a5a" stroke-width="1.2"/>
<path d="M1160 381L1154 396" stroke="#5a5a5a" stroke-width="1.2"/>
<path d="M1125.2 237.5L1135 253.8L1115.5 253.8Z" fill="#e01414"/>
<rect x="1160.5" y="230" width="16.3" height="16.3" fill="#3b9428"/>
<circle cx="1197" cy="243" r="10" fill="#0b3b96"/>
<circle cx="1102.5" cy="285" r="10" fill="#0b3b96"/>
<path d="M1157.5 343L1195 343L1184.6 441.7L1198.5 441.7L1176.3 476L1154 441.7L1169.8 441.7Z" fill="#000"/>
<circle cx="1228.3" cy="271.8" r="14.6" fill="#d2d2d2" stroke="#0a0a0a" stroke-width="3.4"/>
<text x="1228.3" y="277.7" class="b" font-size="16.5" text-anchor="middle" fill="#111">B</text>
<circle cx="1253.3" cy="313.8" r="14.6" fill="#d2d2d2" stroke="#0a0a0a" stroke-width="3.4"/>
<text x="1253.3" y="319.7" class="b" font-size="16.5" text-anchor="middle" fill="#111">B</text>
<circle cx="566.3" cy="620.5" r="15.4" fill="#ececec" stroke="#0a0a0a" stroke-width="3.7"/>
<text x="566.6" y="626.8" class="b" font-size="17.5" text-anchor="middle" fill="#111">D</text>
<circle cx="1066.3" cy="548.8" r="15.4" fill="#d6d6d6" stroke="#0a0a0a" stroke-width="3.7"/>
<text x="1066.6" y="555.1" class="b" font-size="17.5" text-anchor="middle" fill="#111">D</text>
<path d="M510.5 582.5L520.2 598.3L500.8 598.3Z" fill="#e01414"/>
<rect x="498.2" y="613" width="16.3" height="16.3" fill="#3b9428"/>
<circle cx="528.8" cy="608.3" r="9.6" fill="#0b3b96"/>
<path d="M583 621.4L735.3 627.6" stroke="#2a2a2a" stroke-width="1.3" fill="none"/>
<path d="M926 615.6L968 597.7" stroke="#2a2a2a" stroke-width="1.3" fill="none"/>
<path d="M975.5 594.4L1053 561.3" stroke="#2a2a2a" stroke-width="1.3" fill="none"/>
<path d="M1312.4 267.3L1258 267" stroke="#2a2a2a" stroke-width="1.3" fill="none"/>
<path d="M1251 266.7L1264.5 261.8L1261.5 266.9L1264.5 272.2Z" fill="#111"/>
<path d="M1312.4 278.6L1277.5 298" stroke="#2a2a2a" stroke-width="1.3" fill="none"/>
<path d="M1271.5 301.3L1280.5 290.3L1280.6 296.2L1285.8 299.2Z" fill="#111"/>
<rect x="752.9" y="54.9" width="216.4" height="83.2" fill="none" stroke="#86861a" stroke-width="1.7"/>
<text x="776.1" y="91.4" font-size="27.6" fill="#7f7f00" stroke="#7f7f00" stroke-width="0.45" textLength="170.3" lengthAdjust="spacingAndGlyphs">Neuropeptide</text>
<text x="810.5" y="123.7" font-size="27.6" fill="#7f7f00" stroke="#7f7f00" stroke-width="0.45" textLength="101.9" lengthAdjust="spacingAndGlyphs">Release</text>
<rect x="1187.5" y="459.8" width="216.1" height="67.7" fill="none" stroke="#86861a" stroke-width="1.7"/>
<text x="1208.8" y="505" font-size="27.6" fill="#7f7f00" stroke="#7f7f00" stroke-width="0.45" textLength="175" lengthAdjust="spacingAndGlyphs">Vasodilatation</text>
<rect x="157" y="561.3" width="216" height="82" fill="#c0c0c0" stroke="#86861a" stroke-width="1.7"/>
<text x="218" y="597" font-size="27.6" fill="#7f7f00" stroke="#7f7f00" stroke-width="0.45" textLength="90" lengthAdjust="spacingAndGlyphs">Central</text>
<text x="184.5" y="630" font-size="27.6" fill="#7f7f00" stroke="#7f7f00" stroke-width="0.45" textLength="160.5" lengthAdjust="spacingAndGlyphs">Sensitization</text>
<rect x="515" y="649.4" width="215.2" height="81.9" fill="#c0c0c0" stroke="#86861a" stroke-width="1.7"/>
<text x="550" y="686" font-size="27.6" fill="#7f7f00" stroke="#7f7f00" stroke-width="0.45" textLength="142.5" lengthAdjust="spacingAndGlyphs">Pain Signal</text>
<text x="539" y="717.5" font-size="27.6" fill="#7f7f00" stroke="#7f7f00" stroke-width="0.45" textLength="165" lengthAdjust="spacingAndGlyphs">Transmission</text>
<rect x="1312.4" y="234" width="175.2" height="68.4" fill="#c3c3c3" stroke="#2b2b2b" stroke-width="1.5"/>
<text x="1321.5" y="259.3" font-size="18.4" fill="#1e1e1e" stroke="#1e1e1e" stroke-width="0.3" textLength="42" lengthAdjust="spacingAndGlyphs">5-HT</text>
<text x="1365.9" y="263.4" font-size="14" fill="#1e1e1e" stroke="#1e1e1e" stroke-width="0.3" textLength="16.6" lengthAdjust="spacingAndGlyphs">1B</text>
<text x="1388.3" y="259.3" font-size="18.4" fill="#1e1e1e" stroke="#1e1e1e" stroke-width="0.3" textLength="87.2" lengthAdjust="spacingAndGlyphs">Receptors</text>
<text x="1327.9" y="287.7" font-size="18.4" fill="#1e1e1e" stroke="#1e1e1e" stroke-width="0.3" textLength="141.4" lengthAdjust="spacingAndGlyphs">Vasoconstriction</text>
<rect x="735.3" y="598.1" width="190.8" height="58.8" fill="#f3f3f3" stroke="#2b2b2b" stroke-width="1.5"/>
<text x="753.3" y="620" font-size="18.4" fill="#1e1e1e" stroke="#1e1e1e" stroke-width="0.3" textLength="40.9" lengthAdjust="spacingAndGlyphs">5-HT</text>
<text x="798.3" y="624.1" font-size="14" fill="#1e1e1e" stroke="#1e1e1e" stroke-width="0.3" textLength="17.3" lengthAdjust="spacingAndGlyphs">1D</text>
<text x="821.4" y="620" font-size="18.4" fill="#1e1e1e" stroke="#1e1e1e" stroke-width="0.3" textLength="87.2" lengthAdjust="spacingAndGlyphs">Receptors</text>
<text x="746" y="648.2" font-size="18.4" fill="#1e1e1e" stroke="#1e1e1e" stroke-width="0.3" textLength="171" lengthAdjust="spacingAndGlyphs">Trigeminal Inhibition</text>
<text x="839" y="355" font-size="18.4" fill="#1e1e1e" stroke="#1e1e1e" stroke-width="0.3" textLength="88.5" lengthAdjust="spacingAndGlyphs">Trigeminal</text>
<text x="839" y="379.5" font-size="18.4" fill="#1e1e1e" stroke="#1e1e1e" stroke-width="0.3" textLength="77" lengthAdjust="spacingAndGlyphs">Ganglion</text>
</svg>
</body></html>
